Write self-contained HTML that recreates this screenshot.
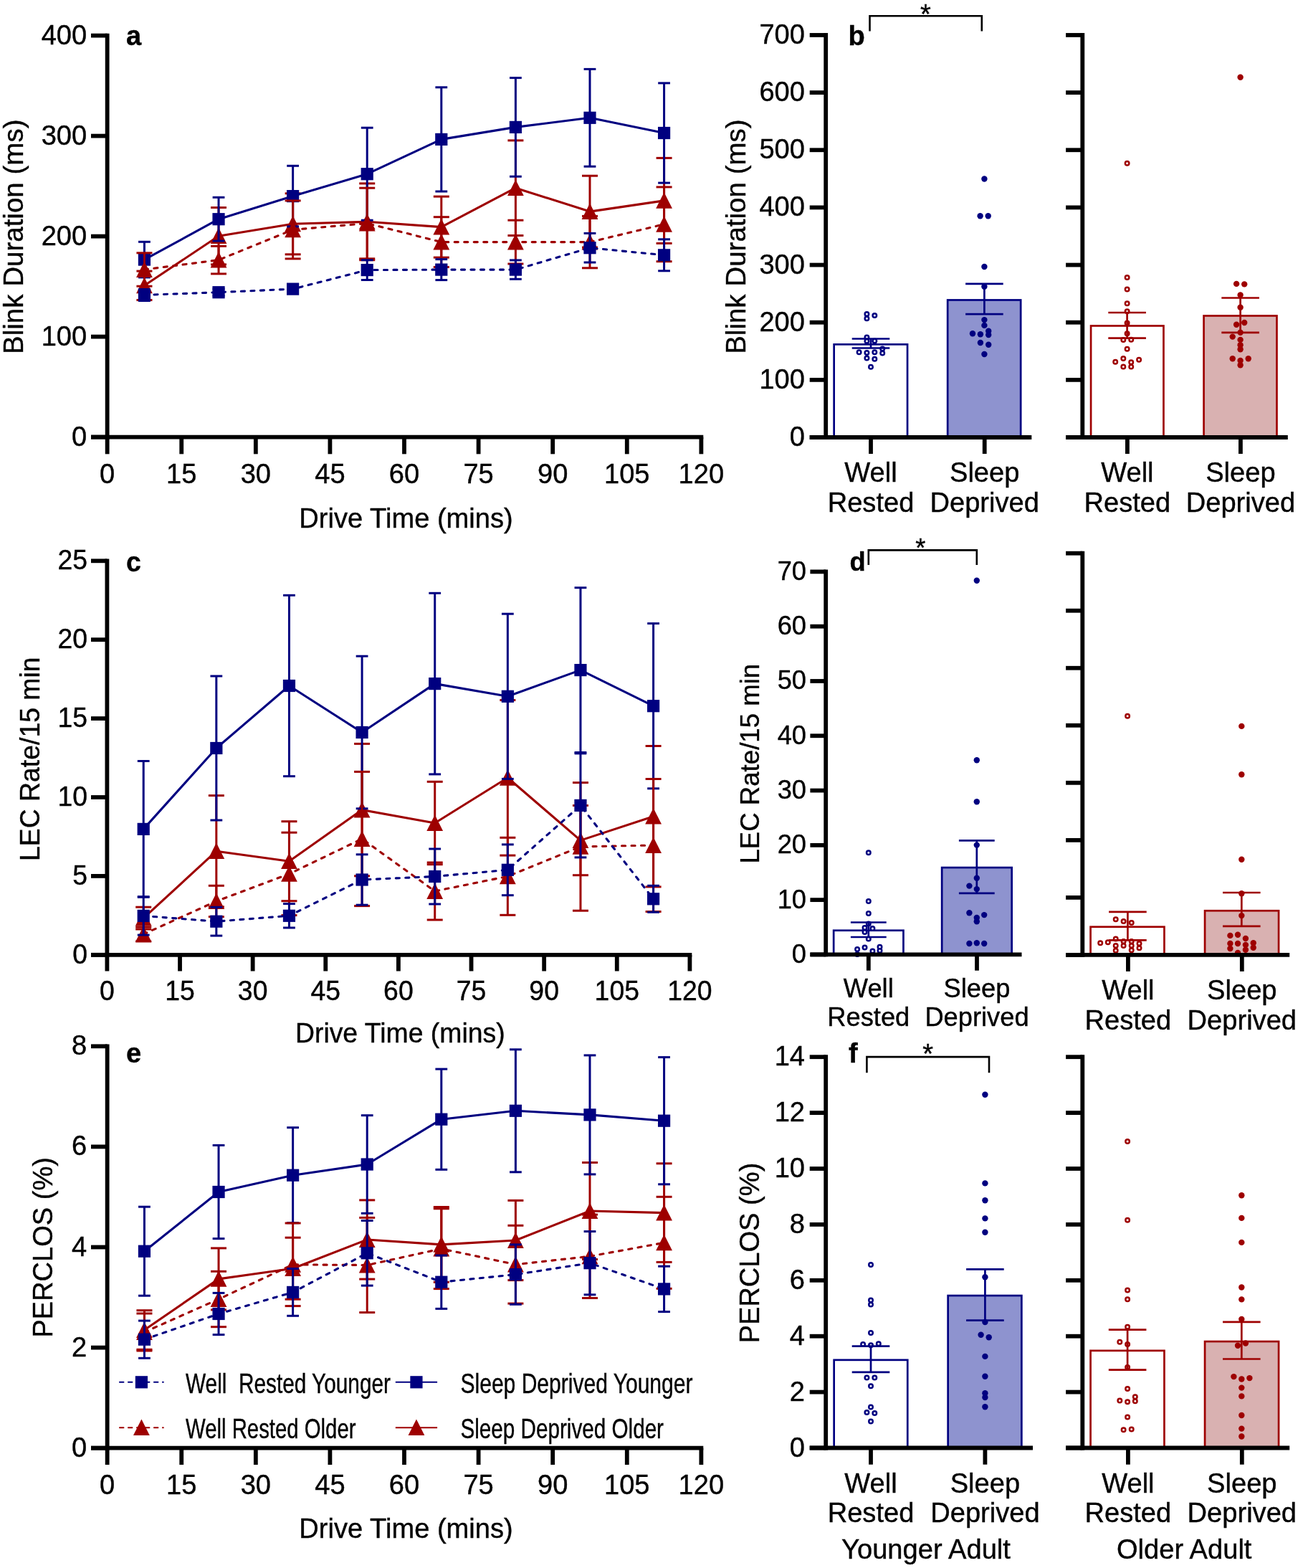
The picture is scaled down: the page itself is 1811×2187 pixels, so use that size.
<!DOCTYPE html>
<html><head><meta charset="utf-8"><title>Figure</title>
<style>
html,body{margin:0;padding:0;background:#fff;}
svg{display:block;}
text{font-family:'Liberation Sans', Arial, Helvetica, sans-serif;fill:#000;stroke:#000;stroke-width:0.4px;}
</style></head>
<body>
<svg width="1811" height="2187" viewBox="0 0 1811 2187">
<rect x="0" y="0" width="1811" height="2187" fill="#fff"/>
<line x1="201.44" y1="378.10" x2="201.44" y2="418.50" stroke="#9e0000" stroke-width="3.0" stroke-linecap="butt"/>
<line x1="190.44" y1="378.10" x2="212.44" y2="378.10" stroke="#9e0000" stroke-width="3.0" stroke-linecap="butt"/>
<line x1="190.44" y1="418.50" x2="212.44" y2="418.50" stroke="#9e0000" stroke-width="3.0" stroke-linecap="butt"/>
<line x1="305.03" y1="289.50" x2="305.03" y2="368.90" stroke="#9e0000" stroke-width="3.0" stroke-linecap="butt"/>
<line x1="294.03" y1="289.50" x2="316.03" y2="289.50" stroke="#9e0000" stroke-width="3.0" stroke-linecap="butt"/>
<line x1="294.03" y1="368.90" x2="316.03" y2="368.90" stroke="#9e0000" stroke-width="3.0" stroke-linecap="butt"/>
<line x1="408.62" y1="269.80" x2="408.62" y2="354.80" stroke="#9e0000" stroke-width="3.0" stroke-linecap="butt"/>
<line x1="397.62" y1="269.80" x2="419.62" y2="269.80" stroke="#9e0000" stroke-width="3.0" stroke-linecap="butt"/>
<line x1="397.62" y1="354.80" x2="419.62" y2="354.80" stroke="#9e0000" stroke-width="3.0" stroke-linecap="butt"/>
<line x1="512.22" y1="255.90" x2="512.22" y2="362.70" stroke="#9e0000" stroke-width="3.0" stroke-linecap="butt"/>
<line x1="501.22" y1="255.90" x2="523.22" y2="255.90" stroke="#9e0000" stroke-width="3.0" stroke-linecap="butt"/>
<line x1="501.22" y1="362.70" x2="523.22" y2="362.70" stroke="#9e0000" stroke-width="3.0" stroke-linecap="butt"/>
<line x1="615.80" y1="274.10" x2="615.80" y2="359.10" stroke="#9e0000" stroke-width="3.0" stroke-linecap="butt"/>
<line x1="604.80" y1="274.10" x2="626.80" y2="274.10" stroke="#9e0000" stroke-width="3.0" stroke-linecap="butt"/>
<line x1="604.80" y1="359.10" x2="626.80" y2="359.10" stroke="#9e0000" stroke-width="3.0" stroke-linecap="butt"/>
<line x1="719.39" y1="195.90" x2="719.39" y2="328.50" stroke="#9e0000" stroke-width="3.0" stroke-linecap="butt"/>
<line x1="708.39" y1="195.90" x2="730.39" y2="195.90" stroke="#9e0000" stroke-width="3.0" stroke-linecap="butt"/>
<line x1="708.39" y1="328.50" x2="730.39" y2="328.50" stroke="#9e0000" stroke-width="3.0" stroke-linecap="butt"/>
<line x1="822.98" y1="245.20" x2="822.98" y2="345.00" stroke="#9e0000" stroke-width="3.0" stroke-linecap="butt"/>
<line x1="811.98" y1="245.20" x2="833.98" y2="245.20" stroke="#9e0000" stroke-width="3.0" stroke-linecap="butt"/>
<line x1="811.98" y1="345.00" x2="833.98" y2="345.00" stroke="#9e0000" stroke-width="3.0" stroke-linecap="butt"/>
<line x1="926.57" y1="220.40" x2="926.57" y2="339.40" stroke="#9e0000" stroke-width="3.0" stroke-linecap="butt"/>
<line x1="915.57" y1="220.40" x2="937.57" y2="220.40" stroke="#9e0000" stroke-width="3.0" stroke-linecap="butt"/>
<line x1="915.57" y1="339.40" x2="937.57" y2="339.40" stroke="#9e0000" stroke-width="3.0" stroke-linecap="butt"/>
<polyline points="201.44,398.30 305.03,329.20 408.62,312.30 512.22,309.30 615.80,316.60 719.39,262.20 822.98,295.10 926.57,279.90" fill="none" stroke="#9e0000" stroke-width="3.1" stroke-linejoin="round"/>
<polygon points="201.44,386.70 212.84,409.20 190.04,409.20" fill="#9e0000"/>
<polygon points="305.03,317.60 316.43,340.10 293.63,340.10" fill="#9e0000"/>
<polygon points="408.62,300.70 420.02,323.20 397.23,323.20" fill="#9e0000"/>
<polygon points="512.22,297.70 523.62,320.20 500.82,320.20" fill="#9e0000"/>
<polygon points="615.80,305.00 627.20,327.50 604.40,327.50" fill="#9e0000"/>
<polygon points="719.39,250.60 730.79,273.10 708.00,273.10" fill="#9e0000"/>
<polygon points="822.98,283.50 834.38,306.00 811.58,306.00" fill="#9e0000"/>
<polygon points="926.57,268.30 937.97,290.80 915.17,290.80" fill="#9e0000"/>
<line x1="201.44" y1="337.30" x2="201.44" y2="386.90" stroke="#000080" stroke-width="3.0" stroke-linecap="butt"/>
<line x1="193.04" y1="337.30" x2="209.84" y2="337.30" stroke="#000080" stroke-width="3.0" stroke-linecap="butt"/>
<line x1="193.04" y1="386.90" x2="209.84" y2="386.90" stroke="#000080" stroke-width="3.0" stroke-linecap="butt"/>
<line x1="305.03" y1="275.30" x2="305.03" y2="336.10" stroke="#000080" stroke-width="3.0" stroke-linecap="butt"/>
<line x1="296.63" y1="275.30" x2="313.43" y2="275.30" stroke="#000080" stroke-width="3.0" stroke-linecap="butt"/>
<line x1="296.63" y1="336.10" x2="313.43" y2="336.10" stroke="#000080" stroke-width="3.0" stroke-linecap="butt"/>
<line x1="408.62" y1="231.30" x2="408.62" y2="315.90" stroke="#000080" stroke-width="3.0" stroke-linecap="butt"/>
<line x1="400.23" y1="231.30" x2="417.02" y2="231.30" stroke="#000080" stroke-width="3.0" stroke-linecap="butt"/>
<line x1="400.23" y1="315.90" x2="417.02" y2="315.90" stroke="#000080" stroke-width="3.0" stroke-linecap="butt"/>
<line x1="512.22" y1="178.20" x2="512.22" y2="307.20" stroke="#000080" stroke-width="3.0" stroke-linecap="butt"/>
<line x1="503.82" y1="178.20" x2="520.62" y2="178.20" stroke="#000080" stroke-width="3.0" stroke-linecap="butt"/>
<line x1="503.82" y1="307.20" x2="520.62" y2="307.20" stroke="#000080" stroke-width="3.0" stroke-linecap="butt"/>
<line x1="615.80" y1="121.80" x2="615.80" y2="267.00" stroke="#000080" stroke-width="3.0" stroke-linecap="butt"/>
<line x1="607.40" y1="121.80" x2="624.20" y2="121.80" stroke="#000080" stroke-width="3.0" stroke-linecap="butt"/>
<line x1="607.40" y1="267.00" x2="624.20" y2="267.00" stroke="#000080" stroke-width="3.0" stroke-linecap="butt"/>
<line x1="719.39" y1="108.60" x2="719.39" y2="246.20" stroke="#000080" stroke-width="3.0" stroke-linecap="butt"/>
<line x1="711.00" y1="108.60" x2="727.79" y2="108.60" stroke="#000080" stroke-width="3.0" stroke-linecap="butt"/>
<line x1="711.00" y1="246.20" x2="727.79" y2="246.20" stroke="#000080" stroke-width="3.0" stroke-linecap="butt"/>
<line x1="822.98" y1="96.40" x2="822.98" y2="232.20" stroke="#000080" stroke-width="3.0" stroke-linecap="butt"/>
<line x1="814.58" y1="96.40" x2="831.38" y2="96.40" stroke="#000080" stroke-width="3.0" stroke-linecap="butt"/>
<line x1="814.58" y1="232.20" x2="831.38" y2="232.20" stroke="#000080" stroke-width="3.0" stroke-linecap="butt"/>
<line x1="926.57" y1="115.90" x2="926.57" y2="255.10" stroke="#000080" stroke-width="3.0" stroke-linecap="butt"/>
<line x1="918.17" y1="115.90" x2="934.97" y2="115.90" stroke="#000080" stroke-width="3.0" stroke-linecap="butt"/>
<line x1="918.17" y1="255.10" x2="934.97" y2="255.10" stroke="#000080" stroke-width="3.0" stroke-linecap="butt"/>
<polyline points="201.44,362.10 305.03,305.70 408.62,273.60 512.22,242.70 615.80,194.40 719.39,177.40 822.98,164.30 926.57,185.50" fill="none" stroke="#000080" stroke-width="3.1" stroke-linejoin="round"/>
<rect x="192.84" y="353.50" width="17.2" height="17.2" fill="#000080"/>
<rect x="296.43" y="297.10" width="17.2" height="17.2" fill="#000080"/>
<rect x="400.02" y="265.00" width="17.2" height="17.2" fill="#000080"/>
<rect x="503.62" y="234.10" width="17.2" height="17.2" fill="#000080"/>
<rect x="607.20" y="185.80" width="17.2" height="17.2" fill="#000080"/>
<rect x="710.79" y="168.80" width="17.2" height="17.2" fill="#000080"/>
<rect x="814.38" y="155.70" width="17.2" height="17.2" fill="#000080"/>
<rect x="917.97" y="176.90" width="17.2" height="17.2" fill="#000080"/>
<line x1="201.44" y1="352.80" x2="201.44" y2="399.20" stroke="#9e0000" stroke-width="3.0" stroke-linecap="butt"/>
<line x1="190.44" y1="352.80" x2="212.44" y2="352.80" stroke="#9e0000" stroke-width="3.0" stroke-linecap="butt"/>
<line x1="190.44" y1="399.20" x2="212.44" y2="399.20" stroke="#9e0000" stroke-width="3.0" stroke-linecap="butt"/>
<line x1="305.03" y1="343.30" x2="305.03" y2="381.90" stroke="#9e0000" stroke-width="3.0" stroke-linecap="butt"/>
<line x1="294.03" y1="343.30" x2="316.03" y2="343.30" stroke="#9e0000" stroke-width="3.0" stroke-linecap="butt"/>
<line x1="294.03" y1="381.90" x2="316.03" y2="381.90" stroke="#9e0000" stroke-width="3.0" stroke-linecap="butt"/>
<line x1="408.62" y1="279.90" x2="408.62" y2="360.90" stroke="#9e0000" stroke-width="3.0" stroke-linecap="butt"/>
<line x1="397.62" y1="279.90" x2="419.62" y2="279.90" stroke="#9e0000" stroke-width="3.0" stroke-linecap="butt"/>
<line x1="397.62" y1="360.90" x2="419.62" y2="360.90" stroke="#9e0000" stroke-width="3.0" stroke-linecap="butt"/>
<line x1="512.22" y1="262.20" x2="512.22" y2="360.80" stroke="#9e0000" stroke-width="3.0" stroke-linecap="butt"/>
<line x1="501.22" y1="262.20" x2="523.22" y2="262.20" stroke="#9e0000" stroke-width="3.0" stroke-linecap="butt"/>
<line x1="501.22" y1="360.80" x2="523.22" y2="360.80" stroke="#9e0000" stroke-width="3.0" stroke-linecap="butt"/>
<line x1="615.80" y1="302.70" x2="615.80" y2="372.50" stroke="#9e0000" stroke-width="3.0" stroke-linecap="butt"/>
<line x1="604.80" y1="302.70" x2="626.80" y2="302.70" stroke="#9e0000" stroke-width="3.0" stroke-linecap="butt"/>
<line x1="604.80" y1="372.50" x2="626.80" y2="372.50" stroke="#9e0000" stroke-width="3.0" stroke-linecap="butt"/>
<line x1="719.39" y1="307.20" x2="719.39" y2="368.00" stroke="#9e0000" stroke-width="3.0" stroke-linecap="butt"/>
<line x1="708.39" y1="307.20" x2="730.39" y2="307.20" stroke="#9e0000" stroke-width="3.0" stroke-linecap="butt"/>
<line x1="708.39" y1="368.00" x2="730.39" y2="368.00" stroke="#9e0000" stroke-width="3.0" stroke-linecap="butt"/>
<line x1="822.98" y1="301.40" x2="822.98" y2="373.80" stroke="#9e0000" stroke-width="3.0" stroke-linecap="butt"/>
<line x1="811.98" y1="301.40" x2="833.98" y2="301.40" stroke="#9e0000" stroke-width="3.0" stroke-linecap="butt"/>
<line x1="811.98" y1="373.80" x2="833.98" y2="373.80" stroke="#9e0000" stroke-width="3.0" stroke-linecap="butt"/>
<line x1="926.57" y1="260.90" x2="926.57" y2="364.70" stroke="#9e0000" stroke-width="3.0" stroke-linecap="butt"/>
<line x1="915.57" y1="260.90" x2="937.57" y2="260.90" stroke="#9e0000" stroke-width="3.0" stroke-linecap="butt"/>
<line x1="915.57" y1="364.70" x2="937.57" y2="364.70" stroke="#9e0000" stroke-width="3.0" stroke-linecap="butt"/>
<polyline points="201.44,376.00 305.03,362.60 408.62,320.40 512.22,311.50 615.80,337.60 719.39,337.60 822.98,337.60 926.57,312.80" fill="none" stroke="#9e0000" stroke-width="3.1" stroke-dasharray="5.1 8.4" stroke-linecap="round" stroke-linejoin="round"/>
<polygon points="201.44,364.40 212.84,386.90 190.04,386.90" fill="#9e0000"/>
<polygon points="305.03,351.00 316.43,373.50 293.63,373.50" fill="#9e0000"/>
<polygon points="408.62,308.80 420.02,331.30 397.23,331.30" fill="#9e0000"/>
<polygon points="512.22,299.90 523.62,322.40 500.82,322.40" fill="#9e0000"/>
<polygon points="615.80,326.00 627.20,348.50 604.40,348.50" fill="#9e0000"/>
<polygon points="719.39,326.00 730.79,348.50 708.00,348.50" fill="#9e0000"/>
<polygon points="822.98,326.00 834.38,348.50 811.58,348.50" fill="#9e0000"/>
<polygon points="926.57,301.20 937.97,323.70 915.17,323.70" fill="#9e0000"/>
<line x1="201.44" y1="403.50" x2="201.44" y2="419.50" stroke="#000080" stroke-width="3.0" stroke-linecap="butt"/>
<line x1="193.04" y1="403.50" x2="209.84" y2="403.50" stroke="#000080" stroke-width="3.0" stroke-linecap="butt"/>
<line x1="193.04" y1="419.50" x2="209.84" y2="419.50" stroke="#000080" stroke-width="3.0" stroke-linecap="butt"/>
<line x1="305.03" y1="403.00" x2="305.03" y2="412.40" stroke="#000080" stroke-width="3.0" stroke-linecap="butt"/>
<line x1="296.63" y1="403.00" x2="313.43" y2="403.00" stroke="#000080" stroke-width="3.0" stroke-linecap="butt"/>
<line x1="296.63" y1="412.40" x2="313.43" y2="412.40" stroke="#000080" stroke-width="3.0" stroke-linecap="butt"/>
<line x1="408.62" y1="399.00" x2="408.62" y2="407.20" stroke="#000080" stroke-width="3.0" stroke-linecap="butt"/>
<line x1="400.23" y1="399.00" x2="417.02" y2="399.00" stroke="#000080" stroke-width="3.0" stroke-linecap="butt"/>
<line x1="400.23" y1="407.20" x2="417.02" y2="407.20" stroke="#000080" stroke-width="3.0" stroke-linecap="butt"/>
<line x1="512.22" y1="362.70" x2="512.22" y2="390.50" stroke="#000080" stroke-width="3.0" stroke-linecap="butt"/>
<line x1="503.82" y1="362.70" x2="520.62" y2="362.70" stroke="#000080" stroke-width="3.0" stroke-linecap="butt"/>
<line x1="503.82" y1="390.50" x2="520.62" y2="390.50" stroke="#000080" stroke-width="3.0" stroke-linecap="butt"/>
<line x1="615.80" y1="361.60" x2="615.80" y2="390.60" stroke="#000080" stroke-width="3.0" stroke-linecap="butt"/>
<line x1="607.40" y1="361.60" x2="624.20" y2="361.60" stroke="#000080" stroke-width="3.0" stroke-linecap="butt"/>
<line x1="607.40" y1="390.60" x2="624.20" y2="390.60" stroke="#000080" stroke-width="3.0" stroke-linecap="butt"/>
<line x1="719.39" y1="362.90" x2="719.39" y2="389.30" stroke="#000080" stroke-width="3.0" stroke-linecap="butt"/>
<line x1="711.00" y1="362.90" x2="727.79" y2="362.90" stroke="#000080" stroke-width="3.0" stroke-linecap="butt"/>
<line x1="711.00" y1="389.30" x2="727.79" y2="389.30" stroke="#000080" stroke-width="3.0" stroke-linecap="butt"/>
<line x1="822.98" y1="325.40" x2="822.98" y2="366.00" stroke="#000080" stroke-width="3.0" stroke-linecap="butt"/>
<line x1="814.58" y1="325.40" x2="831.38" y2="325.40" stroke="#000080" stroke-width="3.0" stroke-linecap="butt"/>
<line x1="814.58" y1="366.00" x2="831.38" y2="366.00" stroke="#000080" stroke-width="3.0" stroke-linecap="butt"/>
<line x1="926.57" y1="333.80" x2="926.57" y2="377.80" stroke="#000080" stroke-width="3.0" stroke-linecap="butt"/>
<line x1="918.17" y1="333.80" x2="934.97" y2="333.80" stroke="#000080" stroke-width="3.0" stroke-linecap="butt"/>
<line x1="918.17" y1="377.80" x2="934.97" y2="377.80" stroke="#000080" stroke-width="3.0" stroke-linecap="butt"/>
<polyline points="201.44,411.50 305.03,407.70 408.62,403.10 512.22,376.60 615.80,376.10 719.39,376.10 822.98,345.70 926.57,355.80" fill="none" stroke="#000080" stroke-width="3.1" stroke-dasharray="5.1 8.4" stroke-linecap="round" stroke-linejoin="round"/>
<rect x="192.84" y="402.90" width="17.2" height="17.2" fill="#000080"/>
<rect x="296.43" y="399.10" width="17.2" height="17.2" fill="#000080"/>
<rect x="400.02" y="394.50" width="17.2" height="17.2" fill="#000080"/>
<rect x="503.62" y="368.00" width="17.2" height="17.2" fill="#000080"/>
<rect x="607.20" y="367.50" width="17.2" height="17.2" fill="#000080"/>
<rect x="710.79" y="367.50" width="17.2" height="17.2" fill="#000080"/>
<rect x="814.38" y="337.10" width="17.2" height="17.2" fill="#000080"/>
<rect x="917.97" y="347.20" width="17.2" height="17.2" fill="#000080"/>
<line x1="149.65" y1="46.70" x2="149.65" y2="612.50" stroke="#000" stroke-width="5.8" stroke-linecap="butt"/>
<line x1="127.00" y1="49.60" x2="149.65" y2="49.60" stroke="#000" stroke-width="5.8" stroke-linecap="butt"/>
<line x1="127.00" y1="189.60" x2="149.65" y2="189.60" stroke="#000" stroke-width="5.8" stroke-linecap="butt"/>
<line x1="127.00" y1="329.60" x2="149.65" y2="329.60" stroke="#000" stroke-width="5.8" stroke-linecap="butt"/>
<line x1="127.00" y1="469.60" x2="149.65" y2="469.60" stroke="#000" stroke-width="5.8" stroke-linecap="butt"/>
<line x1="127.00" y1="609.60" x2="149.65" y2="609.60" stroke="#000" stroke-width="5.8" stroke-linecap="butt"/>
<line x1="127.00" y1="609.60" x2="981.27" y2="609.60" stroke="#000" stroke-width="5.8" stroke-linecap="butt"/>
<line x1="149.65" y1="609.60" x2="149.65" y2="633.30" stroke="#000" stroke-width="5.8" stroke-linecap="butt"/>
<line x1="253.24" y1="609.60" x2="253.24" y2="633.30" stroke="#000" stroke-width="5.8" stroke-linecap="butt"/>
<line x1="356.83" y1="609.60" x2="356.83" y2="633.30" stroke="#000" stroke-width="5.8" stroke-linecap="butt"/>
<line x1="460.42" y1="609.60" x2="460.42" y2="633.30" stroke="#000" stroke-width="5.8" stroke-linecap="butt"/>
<line x1="564.01" y1="609.60" x2="564.01" y2="633.30" stroke="#000" stroke-width="5.8" stroke-linecap="butt"/>
<line x1="667.60" y1="609.60" x2="667.60" y2="633.30" stroke="#000" stroke-width="5.8" stroke-linecap="butt"/>
<line x1="771.19" y1="609.60" x2="771.19" y2="633.30" stroke="#000" stroke-width="5.8" stroke-linecap="butt"/>
<line x1="874.78" y1="609.60" x2="874.78" y2="633.30" stroke="#000" stroke-width="5.8" stroke-linecap="butt"/>
<line x1="978.37" y1="609.60" x2="978.37" y2="633.30" stroke="#000" stroke-width="5.8" stroke-linecap="butt"/>
<text transform="translate(121.20 61.67) scale(0.972 1)" font-size="39.20" text-anchor="end">400</text>
<text transform="translate(121.20 201.67) scale(0.972 1)" font-size="39.20" text-anchor="end">300</text>
<text transform="translate(121.20 341.67) scale(0.972 1)" font-size="39.20" text-anchor="end">200</text>
<text transform="translate(121.20 481.67) scale(0.972 1)" font-size="39.20" text-anchor="end">100</text>
<text transform="translate(121.20 621.67) scale(0.972 1)" font-size="39.20" text-anchor="end">0</text>
<text transform="translate(149.65 674.30) scale(0.972 1)" font-size="39.20" text-anchor="middle">0</text>
<text transform="translate(253.24 674.30) scale(0.972 1)" font-size="39.20" text-anchor="middle">15</text>
<text transform="translate(356.83 674.30) scale(0.972 1)" font-size="39.20" text-anchor="middle">30</text>
<text transform="translate(460.42 674.30) scale(0.972 1)" font-size="39.20" text-anchor="middle">45</text>
<text transform="translate(564.01 674.30) scale(0.972 1)" font-size="39.20" text-anchor="middle">60</text>
<text transform="translate(667.60 674.30) scale(0.972 1)" font-size="39.20" text-anchor="middle">75</text>
<text transform="translate(771.19 674.30) scale(0.972 1)" font-size="39.20" text-anchor="middle">90</text>
<text transform="translate(874.78 674.30) scale(0.972 1)" font-size="39.20" text-anchor="middle">105</text>
<text transform="translate(978.37 674.30) scale(0.972 1)" font-size="39.20" text-anchor="middle">120</text>
<text transform="translate(176.00 62.60) scale(0.972 1)" font-size="39.20" text-anchor="start" font-weight="bold">a</text>
<text transform="translate(566.50 735.80) scale(0.972 1)" font-size="39.20" text-anchor="middle">Drive Time (mins)</text>
<text transform="translate(32.00 330.30) rotate(-90) scale(0.983 1)" font-size="39.20" text-anchor="middle">Blink Duration (ms)</text>
<line x1="200.21" y1="1265.20" x2="200.21" y2="1296.00" stroke="#9e0000" stroke-width="3.0" stroke-linecap="butt"/>
<line x1="189.21" y1="1265.20" x2="211.21" y2="1265.20" stroke="#9e0000" stroke-width="3.0" stroke-linecap="butt"/>
<line x1="189.21" y1="1296.00" x2="211.21" y2="1296.00" stroke="#9e0000" stroke-width="3.0" stroke-linecap="butt"/>
<line x1="301.84" y1="1109.60" x2="301.84" y2="1264.80" stroke="#9e0000" stroke-width="3.0" stroke-linecap="butt"/>
<line x1="290.84" y1="1109.60" x2="312.84" y2="1109.60" stroke="#9e0000" stroke-width="3.0" stroke-linecap="butt"/>
<line x1="290.84" y1="1264.80" x2="312.84" y2="1264.80" stroke="#9e0000" stroke-width="3.0" stroke-linecap="butt"/>
<line x1="403.46" y1="1145.70" x2="403.46" y2="1256.70" stroke="#9e0000" stroke-width="3.0" stroke-linecap="butt"/>
<line x1="392.46" y1="1145.70" x2="414.46" y2="1145.70" stroke="#9e0000" stroke-width="3.0" stroke-linecap="butt"/>
<line x1="392.46" y1="1256.70" x2="414.46" y2="1256.70" stroke="#9e0000" stroke-width="3.0" stroke-linecap="butt"/>
<line x1="505.09" y1="1037.40" x2="505.09" y2="1221.80" stroke="#9e0000" stroke-width="3.0" stroke-linecap="butt"/>
<line x1="494.09" y1="1037.40" x2="516.09" y2="1037.40" stroke="#9e0000" stroke-width="3.0" stroke-linecap="butt"/>
<line x1="494.09" y1="1221.80" x2="516.09" y2="1221.80" stroke="#9e0000" stroke-width="3.0" stroke-linecap="butt"/>
<line x1="606.71" y1="1090.30" x2="606.71" y2="1205.70" stroke="#9e0000" stroke-width="3.0" stroke-linecap="butt"/>
<line x1="595.71" y1="1090.30" x2="617.71" y2="1090.30" stroke="#9e0000" stroke-width="3.0" stroke-linecap="butt"/>
<line x1="595.71" y1="1205.70" x2="617.71" y2="1205.70" stroke="#9e0000" stroke-width="3.0" stroke-linecap="butt"/>
<line x1="708.34" y1="976.50" x2="708.34" y2="1193.10" stroke="#9e0000" stroke-width="3.0" stroke-linecap="butt"/>
<line x1="697.34" y1="976.50" x2="719.34" y2="976.50" stroke="#9e0000" stroke-width="3.0" stroke-linecap="butt"/>
<line x1="697.34" y1="1193.10" x2="719.34" y2="1193.10" stroke="#9e0000" stroke-width="3.0" stroke-linecap="butt"/>
<line x1="809.96" y1="1123.50" x2="809.96" y2="1220.70" stroke="#9e0000" stroke-width="3.0" stroke-linecap="butt"/>
<line x1="798.96" y1="1123.50" x2="820.96" y2="1123.50" stroke="#9e0000" stroke-width="3.0" stroke-linecap="butt"/>
<line x1="798.96" y1="1220.70" x2="820.96" y2="1220.70" stroke="#9e0000" stroke-width="3.0" stroke-linecap="butt"/>
<line x1="911.59" y1="1040.50" x2="911.59" y2="1236.90" stroke="#9e0000" stroke-width="3.0" stroke-linecap="butt"/>
<line x1="900.59" y1="1040.50" x2="922.59" y2="1040.50" stroke="#9e0000" stroke-width="3.0" stroke-linecap="butt"/>
<line x1="900.59" y1="1236.90" x2="922.59" y2="1236.90" stroke="#9e0000" stroke-width="3.0" stroke-linecap="butt"/>
<polyline points="200.21,1280.60 301.84,1187.20 403.46,1201.20 505.09,1129.60 606.71,1148.00 708.34,1084.80 809.96,1172.10 911.59,1138.70" fill="none" stroke="#9e0000" stroke-width="3.1" stroke-linejoin="round"/>
<polygon points="200.21,1269.00 211.61,1291.50 188.81,1291.50" fill="#9e0000"/>
<polygon points="301.84,1175.60 313.24,1198.10 290.44,1198.10" fill="#9e0000"/>
<polygon points="403.46,1189.60 414.86,1212.10 392.06,1212.10" fill="#9e0000"/>
<polygon points="505.09,1118.00 516.49,1140.50 493.69,1140.50" fill="#9e0000"/>
<polygon points="606.71,1136.40 618.11,1158.90 595.31,1158.90" fill="#9e0000"/>
<polygon points="708.34,1073.20 719.74,1095.70 696.94,1095.70" fill="#9e0000"/>
<polygon points="809.96,1160.50 821.36,1183.00 798.56,1183.00" fill="#9e0000"/>
<polygon points="911.59,1127.10 922.99,1149.60 900.19,1149.60" fill="#9e0000"/>
<line x1="200.21" y1="1061.50" x2="200.21" y2="1251.30" stroke="#000080" stroke-width="3.0" stroke-linecap="butt"/>
<line x1="191.81" y1="1061.50" x2="208.61" y2="1061.50" stroke="#000080" stroke-width="3.0" stroke-linecap="butt"/>
<line x1="191.81" y1="1251.30" x2="208.61" y2="1251.30" stroke="#000080" stroke-width="3.0" stroke-linecap="butt"/>
<line x1="301.84" y1="943.00" x2="301.84" y2="1144.00" stroke="#000080" stroke-width="3.0" stroke-linecap="butt"/>
<line x1="293.44" y1="943.00" x2="310.24" y2="943.00" stroke="#000080" stroke-width="3.0" stroke-linecap="butt"/>
<line x1="293.44" y1="1144.00" x2="310.24" y2="1144.00" stroke="#000080" stroke-width="3.0" stroke-linecap="butt"/>
<line x1="403.46" y1="830.30" x2="403.46" y2="1082.70" stroke="#000080" stroke-width="3.0" stroke-linecap="butt"/>
<line x1="395.06" y1="830.30" x2="411.86" y2="830.30" stroke="#000080" stroke-width="3.0" stroke-linecap="butt"/>
<line x1="395.06" y1="1082.70" x2="411.86" y2="1082.70" stroke="#000080" stroke-width="3.0" stroke-linecap="butt"/>
<line x1="505.09" y1="915.20" x2="505.09" y2="1127.80" stroke="#000080" stroke-width="3.0" stroke-linecap="butt"/>
<line x1="496.69" y1="915.20" x2="513.49" y2="915.20" stroke="#000080" stroke-width="3.0" stroke-linecap="butt"/>
<line x1="496.69" y1="1127.80" x2="513.49" y2="1127.80" stroke="#000080" stroke-width="3.0" stroke-linecap="butt"/>
<line x1="606.71" y1="827.30" x2="606.71" y2="1079.90" stroke="#000080" stroke-width="3.0" stroke-linecap="butt"/>
<line x1="598.31" y1="827.30" x2="615.11" y2="827.30" stroke="#000080" stroke-width="3.0" stroke-linecap="butt"/>
<line x1="598.31" y1="1079.90" x2="615.11" y2="1079.90" stroke="#000080" stroke-width="3.0" stroke-linecap="butt"/>
<line x1="708.34" y1="856.20" x2="708.34" y2="1086.40" stroke="#000080" stroke-width="3.0" stroke-linecap="butt"/>
<line x1="699.94" y1="856.20" x2="716.74" y2="856.20" stroke="#000080" stroke-width="3.0" stroke-linecap="butt"/>
<line x1="699.94" y1="1086.40" x2="716.74" y2="1086.40" stroke="#000080" stroke-width="3.0" stroke-linecap="butt"/>
<line x1="809.96" y1="819.70" x2="809.96" y2="1049.50" stroke="#000080" stroke-width="3.0" stroke-linecap="butt"/>
<line x1="801.56" y1="819.70" x2="818.36" y2="819.70" stroke="#000080" stroke-width="3.0" stroke-linecap="butt"/>
<line x1="801.56" y1="1049.50" x2="818.36" y2="1049.50" stroke="#000080" stroke-width="3.0" stroke-linecap="butt"/>
<line x1="911.59" y1="869.60" x2="911.59" y2="1099.80" stroke="#000080" stroke-width="3.0" stroke-linecap="butt"/>
<line x1="903.19" y1="869.60" x2="919.99" y2="869.60" stroke="#000080" stroke-width="3.0" stroke-linecap="butt"/>
<line x1="903.19" y1="1099.80" x2="919.99" y2="1099.80" stroke="#000080" stroke-width="3.0" stroke-linecap="butt"/>
<polyline points="200.21,1156.40 301.84,1043.50 403.46,956.50 505.09,1021.50 606.71,953.60 708.34,971.30 809.96,934.60 911.59,984.70" fill="none" stroke="#000080" stroke-width="3.1" stroke-linejoin="round"/>
<rect x="191.61" y="1147.80" width="17.2" height="17.2" fill="#000080"/>
<rect x="293.24" y="1034.90" width="17.2" height="17.2" fill="#000080"/>
<rect x="394.86" y="947.90" width="17.2" height="17.2" fill="#000080"/>
<rect x="496.49" y="1012.90" width="17.2" height="17.2" fill="#000080"/>
<rect x="598.11" y="945.00" width="17.2" height="17.2" fill="#000080"/>
<rect x="699.74" y="962.70" width="17.2" height="17.2" fill="#000080"/>
<rect x="801.36" y="926.00" width="17.2" height="17.2" fill="#000080"/>
<rect x="902.99" y="976.10" width="17.2" height="17.2" fill="#000080"/>
<line x1="200.21" y1="1293.00" x2="200.21" y2="1313.00" stroke="#9e0000" stroke-width="3.0" stroke-linecap="butt"/>
<line x1="189.21" y1="1293.00" x2="211.21" y2="1293.00" stroke="#9e0000" stroke-width="3.0" stroke-linecap="butt"/>
<line x1="189.21" y1="1313.00" x2="211.21" y2="1313.00" stroke="#9e0000" stroke-width="3.0" stroke-linecap="butt"/>
<line x1="301.84" y1="1235.30" x2="301.84" y2="1278.70" stroke="#9e0000" stroke-width="3.0" stroke-linecap="butt"/>
<line x1="290.84" y1="1235.30" x2="312.84" y2="1235.30" stroke="#9e0000" stroke-width="3.0" stroke-linecap="butt"/>
<line x1="290.84" y1="1278.70" x2="312.84" y2="1278.70" stroke="#9e0000" stroke-width="3.0" stroke-linecap="butt"/>
<line x1="403.46" y1="1161.20" x2="403.46" y2="1276.60" stroke="#9e0000" stroke-width="3.0" stroke-linecap="butt"/>
<line x1="392.46" y1="1161.20" x2="414.46" y2="1161.20" stroke="#9e0000" stroke-width="3.0" stroke-linecap="butt"/>
<line x1="392.46" y1="1276.60" x2="414.46" y2="1276.60" stroke="#9e0000" stroke-width="3.0" stroke-linecap="butt"/>
<line x1="505.09" y1="1076.40" x2="505.09" y2="1263.60" stroke="#9e0000" stroke-width="3.0" stroke-linecap="butt"/>
<line x1="494.09" y1="1076.40" x2="516.09" y2="1076.40" stroke="#9e0000" stroke-width="3.0" stroke-linecap="butt"/>
<line x1="494.09" y1="1263.60" x2="516.09" y2="1263.60" stroke="#9e0000" stroke-width="3.0" stroke-linecap="butt"/>
<line x1="606.71" y1="1203.00" x2="606.71" y2="1283.00" stroke="#9e0000" stroke-width="3.0" stroke-linecap="butt"/>
<line x1="595.71" y1="1203.00" x2="617.71" y2="1203.00" stroke="#9e0000" stroke-width="3.0" stroke-linecap="butt"/>
<line x1="595.71" y1="1283.00" x2="617.71" y2="1283.00" stroke="#9e0000" stroke-width="3.0" stroke-linecap="butt"/>
<line x1="708.34" y1="1168.30" x2="708.34" y2="1276.30" stroke="#9e0000" stroke-width="3.0" stroke-linecap="butt"/>
<line x1="697.34" y1="1168.30" x2="719.34" y2="1168.30" stroke="#9e0000" stroke-width="3.0" stroke-linecap="butt"/>
<line x1="697.34" y1="1276.30" x2="719.34" y2="1276.30" stroke="#9e0000" stroke-width="3.0" stroke-linecap="butt"/>
<line x1="809.96" y1="1091.60" x2="809.96" y2="1270.20" stroke="#9e0000" stroke-width="3.0" stroke-linecap="butt"/>
<line x1="798.96" y1="1091.60" x2="820.96" y2="1091.60" stroke="#9e0000" stroke-width="3.0" stroke-linecap="butt"/>
<line x1="798.96" y1="1270.20" x2="820.96" y2="1270.20" stroke="#9e0000" stroke-width="3.0" stroke-linecap="butt"/>
<line x1="911.59" y1="1086.50" x2="911.59" y2="1271.50" stroke="#9e0000" stroke-width="3.0" stroke-linecap="butt"/>
<line x1="900.59" y1="1086.50" x2="922.59" y2="1086.50" stroke="#9e0000" stroke-width="3.0" stroke-linecap="butt"/>
<line x1="900.59" y1="1271.50" x2="922.59" y2="1271.50" stroke="#9e0000" stroke-width="3.0" stroke-linecap="butt"/>
<polyline points="200.21,1303.00 301.84,1257.00 403.46,1218.90 505.09,1170.00 606.71,1243.00 708.34,1222.30 809.96,1180.90 911.59,1179.00" fill="none" stroke="#9e0000" stroke-width="3.1" stroke-dasharray="5.1 8.4" stroke-linecap="round" stroke-linejoin="round"/>
<polygon points="200.21,1291.40 211.61,1313.90 188.81,1313.90" fill="#9e0000"/>
<polygon points="301.84,1245.40 313.24,1267.90 290.44,1267.90" fill="#9e0000"/>
<polygon points="403.46,1207.30 414.86,1229.80 392.06,1229.80" fill="#9e0000"/>
<polygon points="505.09,1158.40 516.49,1180.90 493.69,1180.90" fill="#9e0000"/>
<polygon points="606.71,1231.40 618.11,1253.90 595.31,1253.90" fill="#9e0000"/>
<polygon points="708.34,1210.70 719.74,1233.20 696.94,1233.20" fill="#9e0000"/>
<polygon points="809.96,1169.30 821.36,1191.80 798.56,1191.80" fill="#9e0000"/>
<polygon points="911.59,1167.40 922.99,1189.90 900.19,1189.90" fill="#9e0000"/>
<line x1="200.21" y1="1250.70" x2="200.21" y2="1304.10" stroke="#000080" stroke-width="3.0" stroke-linecap="butt"/>
<line x1="191.81" y1="1250.70" x2="208.61" y2="1250.70" stroke="#000080" stroke-width="3.0" stroke-linecap="butt"/>
<line x1="191.81" y1="1304.10" x2="208.61" y2="1304.10" stroke="#000080" stroke-width="3.0" stroke-linecap="butt"/>
<line x1="301.84" y1="1265.30" x2="301.84" y2="1305.10" stroke="#000080" stroke-width="3.0" stroke-linecap="butt"/>
<line x1="293.44" y1="1265.30" x2="310.24" y2="1265.30" stroke="#000080" stroke-width="3.0" stroke-linecap="butt"/>
<line x1="293.44" y1="1305.10" x2="310.24" y2="1305.10" stroke="#000080" stroke-width="3.0" stroke-linecap="butt"/>
<line x1="403.46" y1="1260.60" x2="403.46" y2="1294.00" stroke="#000080" stroke-width="3.0" stroke-linecap="butt"/>
<line x1="395.06" y1="1260.60" x2="411.86" y2="1260.60" stroke="#000080" stroke-width="3.0" stroke-linecap="butt"/>
<line x1="395.06" y1="1294.00" x2="411.86" y2="1294.00" stroke="#000080" stroke-width="3.0" stroke-linecap="butt"/>
<line x1="505.09" y1="1191.80" x2="505.09" y2="1262.20" stroke="#000080" stroke-width="3.0" stroke-linecap="butt"/>
<line x1="496.69" y1="1191.80" x2="513.49" y2="1191.80" stroke="#000080" stroke-width="3.0" stroke-linecap="butt"/>
<line x1="496.69" y1="1262.20" x2="513.49" y2="1262.20" stroke="#000080" stroke-width="3.0" stroke-linecap="butt"/>
<line x1="606.71" y1="1184.00" x2="606.71" y2="1261.00" stroke="#000080" stroke-width="3.0" stroke-linecap="butt"/>
<line x1="598.31" y1="1184.00" x2="615.11" y2="1184.00" stroke="#000080" stroke-width="3.0" stroke-linecap="butt"/>
<line x1="598.31" y1="1261.00" x2="615.11" y2="1261.00" stroke="#000080" stroke-width="3.0" stroke-linecap="butt"/>
<line x1="708.34" y1="1177.90" x2="708.34" y2="1248.70" stroke="#000080" stroke-width="3.0" stroke-linecap="butt"/>
<line x1="699.94" y1="1177.90" x2="716.74" y2="1177.90" stroke="#000080" stroke-width="3.0" stroke-linecap="butt"/>
<line x1="699.94" y1="1248.70" x2="716.74" y2="1248.70" stroke="#000080" stroke-width="3.0" stroke-linecap="butt"/>
<line x1="809.96" y1="1050.90" x2="809.96" y2="1195.90" stroke="#000080" stroke-width="3.0" stroke-linecap="butt"/>
<line x1="801.56" y1="1050.90" x2="818.36" y2="1050.90" stroke="#000080" stroke-width="3.0" stroke-linecap="butt"/>
<line x1="801.56" y1="1195.90" x2="818.36" y2="1195.90" stroke="#000080" stroke-width="3.0" stroke-linecap="butt"/>
<line x1="911.59" y1="1235.30" x2="911.59" y2="1272.30" stroke="#000080" stroke-width="3.0" stroke-linecap="butt"/>
<line x1="903.19" y1="1235.30" x2="919.99" y2="1235.30" stroke="#000080" stroke-width="3.0" stroke-linecap="butt"/>
<line x1="903.19" y1="1272.30" x2="919.99" y2="1272.30" stroke="#000080" stroke-width="3.0" stroke-linecap="butt"/>
<polyline points="200.21,1277.40 301.84,1285.20 403.46,1277.30 505.09,1227.00 606.71,1222.50 708.34,1213.30 809.96,1123.40 911.59,1253.80" fill="none" stroke="#000080" stroke-width="3.1" stroke-dasharray="5.1 8.4" stroke-linecap="round" stroke-linejoin="round"/>
<rect x="191.61" y="1268.80" width="17.2" height="17.2" fill="#000080"/>
<rect x="293.24" y="1276.60" width="17.2" height="17.2" fill="#000080"/>
<rect x="394.86" y="1268.70" width="17.2" height="17.2" fill="#000080"/>
<rect x="496.49" y="1218.40" width="17.2" height="17.2" fill="#000080"/>
<rect x="598.11" y="1213.90" width="17.2" height="17.2" fill="#000080"/>
<rect x="699.74" y="1204.70" width="17.2" height="17.2" fill="#000080"/>
<rect x="801.36" y="1114.80" width="17.2" height="17.2" fill="#000080"/>
<rect x="902.99" y="1245.20" width="17.2" height="17.2" fill="#000080"/>
<line x1="149.40" y1="779.40" x2="149.40" y2="1334.70" stroke="#000" stroke-width="5.8" stroke-linecap="butt"/>
<line x1="127.00" y1="782.30" x2="149.40" y2="782.30" stroke="#000" stroke-width="5.8" stroke-linecap="butt"/>
<line x1="127.00" y1="892.20" x2="149.40" y2="892.20" stroke="#000" stroke-width="5.8" stroke-linecap="butt"/>
<line x1="127.00" y1="1002.10" x2="149.40" y2="1002.10" stroke="#000" stroke-width="5.8" stroke-linecap="butt"/>
<line x1="127.00" y1="1112.00" x2="149.40" y2="1112.00" stroke="#000" stroke-width="5.8" stroke-linecap="butt"/>
<line x1="127.00" y1="1221.90" x2="149.40" y2="1221.90" stroke="#000" stroke-width="5.8" stroke-linecap="butt"/>
<line x1="127.00" y1="1331.80" x2="149.40" y2="1331.80" stroke="#000" stroke-width="5.8" stroke-linecap="butt"/>
<line x1="127.00" y1="1331.80" x2="965.30" y2="1331.80" stroke="#000" stroke-width="5.8" stroke-linecap="butt"/>
<line x1="149.40" y1="1331.80" x2="149.40" y2="1354.50" stroke="#000" stroke-width="5.8" stroke-linecap="butt"/>
<line x1="251.03" y1="1331.80" x2="251.03" y2="1354.50" stroke="#000" stroke-width="5.8" stroke-linecap="butt"/>
<line x1="352.65" y1="1331.80" x2="352.65" y2="1354.50" stroke="#000" stroke-width="5.8" stroke-linecap="butt"/>
<line x1="454.27" y1="1331.80" x2="454.27" y2="1354.50" stroke="#000" stroke-width="5.8" stroke-linecap="butt"/>
<line x1="555.90" y1="1331.80" x2="555.90" y2="1354.50" stroke="#000" stroke-width="5.8" stroke-linecap="butt"/>
<line x1="657.52" y1="1331.80" x2="657.52" y2="1354.50" stroke="#000" stroke-width="5.8" stroke-linecap="butt"/>
<line x1="759.15" y1="1331.80" x2="759.15" y2="1354.50" stroke="#000" stroke-width="5.8" stroke-linecap="butt"/>
<line x1="860.77" y1="1331.80" x2="860.77" y2="1354.50" stroke="#000" stroke-width="5.8" stroke-linecap="butt"/>
<line x1="962.40" y1="1331.80" x2="962.40" y2="1354.50" stroke="#000" stroke-width="5.8" stroke-linecap="butt"/>
<text transform="translate(122.00 794.14) scale(0.972 1)" font-size="38.46" text-anchor="end">25</text>
<text transform="translate(122.00 904.04) scale(0.972 1)" font-size="38.46" text-anchor="end">20</text>
<text transform="translate(122.00 1013.94) scale(0.972 1)" font-size="38.46" text-anchor="end">15</text>
<text transform="translate(122.00 1123.84) scale(0.972 1)" font-size="38.46" text-anchor="end">10</text>
<text transform="translate(122.00 1233.74) scale(0.972 1)" font-size="38.46" text-anchor="end">5</text>
<text transform="translate(122.00 1343.64) scale(0.972 1)" font-size="38.46" text-anchor="end">0</text>
<text transform="translate(149.40 1395.00) scale(0.972 1)" font-size="38.46" text-anchor="middle">0</text>
<text transform="translate(251.03 1395.00) scale(0.972 1)" font-size="38.46" text-anchor="middle">15</text>
<text transform="translate(352.65 1395.00) scale(0.972 1)" font-size="38.46" text-anchor="middle">30</text>
<text transform="translate(454.27 1395.00) scale(0.972 1)" font-size="38.46" text-anchor="middle">45</text>
<text transform="translate(555.90 1395.00) scale(0.972 1)" font-size="38.46" text-anchor="middle">60</text>
<text transform="translate(657.52 1395.00) scale(0.972 1)" font-size="38.46" text-anchor="middle">75</text>
<text transform="translate(759.15 1395.00) scale(0.972 1)" font-size="38.46" text-anchor="middle">90</text>
<text transform="translate(860.77 1395.00) scale(0.972 1)" font-size="38.46" text-anchor="middle">105</text>
<text transform="translate(962.40 1395.00) scale(0.972 1)" font-size="38.46" text-anchor="middle">120</text>
<text transform="translate(176.00 797.30) scale(0.972 1)" font-size="38.46" text-anchor="start" font-weight="bold">c</text>
<text transform="translate(558.30 1454.30) scale(0.972 1)" font-size="38.46" text-anchor="middle">Drive Time (mins)</text>
<text transform="translate(54.50 1058.70) rotate(-90) scale(0.972 1)" font-size="38.46" text-anchor="middle">LEC Rate/15 min</text>
<line x1="201.44" y1="1827.70" x2="201.44" y2="1882.30" stroke="#9e0000" stroke-width="3.0" stroke-linecap="butt"/>
<line x1="190.44" y1="1827.70" x2="212.44" y2="1827.70" stroke="#9e0000" stroke-width="3.0" stroke-linecap="butt"/>
<line x1="190.44" y1="1882.30" x2="212.44" y2="1882.30" stroke="#9e0000" stroke-width="3.0" stroke-linecap="butt"/>
<line x1="305.03" y1="1740.90" x2="305.03" y2="1826.90" stroke="#9e0000" stroke-width="3.0" stroke-linecap="butt"/>
<line x1="294.03" y1="1740.90" x2="316.03" y2="1740.90" stroke="#9e0000" stroke-width="3.0" stroke-linecap="butt"/>
<line x1="294.03" y1="1826.90" x2="316.03" y2="1826.90" stroke="#9e0000" stroke-width="3.0" stroke-linecap="butt"/>
<line x1="408.62" y1="1726.20" x2="408.62" y2="1812.20" stroke="#9e0000" stroke-width="3.0" stroke-linecap="butt"/>
<line x1="397.62" y1="1726.20" x2="419.62" y2="1726.20" stroke="#9e0000" stroke-width="3.0" stroke-linecap="butt"/>
<line x1="397.62" y1="1812.20" x2="419.62" y2="1812.20" stroke="#9e0000" stroke-width="3.0" stroke-linecap="butt"/>
<line x1="512.22" y1="1673.90" x2="512.22" y2="1784.10" stroke="#9e0000" stroke-width="3.0" stroke-linecap="butt"/>
<line x1="501.22" y1="1673.90" x2="523.22" y2="1673.90" stroke="#9e0000" stroke-width="3.0" stroke-linecap="butt"/>
<line x1="501.22" y1="1784.10" x2="523.22" y2="1784.10" stroke="#9e0000" stroke-width="3.0" stroke-linecap="butt"/>
<line x1="615.80" y1="1683.50" x2="615.80" y2="1788.30" stroke="#9e0000" stroke-width="3.0" stroke-linecap="butt"/>
<line x1="604.80" y1="1683.50" x2="626.80" y2="1683.50" stroke="#9e0000" stroke-width="3.0" stroke-linecap="butt"/>
<line x1="604.80" y1="1788.30" x2="626.80" y2="1788.30" stroke="#9e0000" stroke-width="3.0" stroke-linecap="butt"/>
<line x1="719.39" y1="1674.40" x2="719.39" y2="1785.60" stroke="#9e0000" stroke-width="3.0" stroke-linecap="butt"/>
<line x1="708.39" y1="1674.40" x2="730.39" y2="1674.40" stroke="#9e0000" stroke-width="3.0" stroke-linecap="butt"/>
<line x1="708.39" y1="1785.60" x2="730.39" y2="1785.60" stroke="#9e0000" stroke-width="3.0" stroke-linecap="butt"/>
<line x1="822.98" y1="1621.50" x2="822.98" y2="1756.50" stroke="#9e0000" stroke-width="3.0" stroke-linecap="butt"/>
<line x1="811.98" y1="1621.50" x2="833.98" y2="1621.50" stroke="#9e0000" stroke-width="3.0" stroke-linecap="butt"/>
<line x1="811.98" y1="1756.50" x2="833.98" y2="1756.50" stroke="#9e0000" stroke-width="3.0" stroke-linecap="butt"/>
<line x1="926.57" y1="1622.80" x2="926.57" y2="1760.40" stroke="#9e0000" stroke-width="3.0" stroke-linecap="butt"/>
<line x1="915.57" y1="1622.80" x2="937.57" y2="1622.80" stroke="#9e0000" stroke-width="3.0" stroke-linecap="butt"/>
<line x1="915.57" y1="1760.40" x2="937.57" y2="1760.40" stroke="#9e0000" stroke-width="3.0" stroke-linecap="butt"/>
<polyline points="201.44,1855.00 305.03,1783.90 408.62,1769.20 512.22,1729.00 615.80,1735.90 719.39,1730.00 822.98,1689.00 926.57,1691.60" fill="none" stroke="#9e0000" stroke-width="3.1" stroke-linejoin="round"/>
<polygon points="201.44,1843.40 212.84,1865.90 190.04,1865.90" fill="#9e0000"/>
<polygon points="305.03,1772.30 316.43,1794.80 293.63,1794.80" fill="#9e0000"/>
<polygon points="408.62,1757.60 420.02,1780.10 397.23,1780.10" fill="#9e0000"/>
<polygon points="512.22,1717.40 523.62,1739.90 500.82,1739.90" fill="#9e0000"/>
<polygon points="615.80,1724.30 627.20,1746.80 604.40,1746.80" fill="#9e0000"/>
<polygon points="719.39,1718.40 730.79,1740.90 708.00,1740.90" fill="#9e0000"/>
<polygon points="822.98,1677.40 834.38,1699.90 811.58,1699.90" fill="#9e0000"/>
<polygon points="926.57,1680.00 937.97,1702.50 915.17,1702.50" fill="#9e0000"/>
<line x1="201.44" y1="1683.20" x2="201.44" y2="1807.20" stroke="#000080" stroke-width="3.0" stroke-linecap="butt"/>
<line x1="193.04" y1="1683.20" x2="209.84" y2="1683.20" stroke="#000080" stroke-width="3.0" stroke-linecap="butt"/>
<line x1="193.04" y1="1807.20" x2="209.84" y2="1807.20" stroke="#000080" stroke-width="3.0" stroke-linecap="butt"/>
<line x1="305.03" y1="1597.40" x2="305.03" y2="1727.60" stroke="#000080" stroke-width="3.0" stroke-linecap="butt"/>
<line x1="296.63" y1="1597.40" x2="313.43" y2="1597.40" stroke="#000080" stroke-width="3.0" stroke-linecap="butt"/>
<line x1="296.63" y1="1727.60" x2="313.43" y2="1727.60" stroke="#000080" stroke-width="3.0" stroke-linecap="butt"/>
<line x1="408.62" y1="1572.70" x2="408.62" y2="1705.70" stroke="#000080" stroke-width="3.0" stroke-linecap="butt"/>
<line x1="400.23" y1="1572.70" x2="417.02" y2="1572.70" stroke="#000080" stroke-width="3.0" stroke-linecap="butt"/>
<line x1="400.23" y1="1705.70" x2="417.02" y2="1705.70" stroke="#000080" stroke-width="3.0" stroke-linecap="butt"/>
<line x1="512.22" y1="1555.70" x2="512.22" y2="1692.30" stroke="#000080" stroke-width="3.0" stroke-linecap="butt"/>
<line x1="503.82" y1="1555.70" x2="520.62" y2="1555.70" stroke="#000080" stroke-width="3.0" stroke-linecap="butt"/>
<line x1="503.82" y1="1692.30" x2="520.62" y2="1692.30" stroke="#000080" stroke-width="3.0" stroke-linecap="butt"/>
<line x1="615.80" y1="1491.10" x2="615.80" y2="1631.30" stroke="#000080" stroke-width="3.0" stroke-linecap="butt"/>
<line x1="607.40" y1="1491.10" x2="624.20" y2="1491.10" stroke="#000080" stroke-width="3.0" stroke-linecap="butt"/>
<line x1="607.40" y1="1631.30" x2="624.20" y2="1631.30" stroke="#000080" stroke-width="3.0" stroke-linecap="butt"/>
<line x1="719.39" y1="1463.80" x2="719.39" y2="1634.80" stroke="#000080" stroke-width="3.0" stroke-linecap="butt"/>
<line x1="711.00" y1="1463.80" x2="727.79" y2="1463.80" stroke="#000080" stroke-width="3.0" stroke-linecap="butt"/>
<line x1="711.00" y1="1634.80" x2="727.79" y2="1634.80" stroke="#000080" stroke-width="3.0" stroke-linecap="butt"/>
<line x1="822.98" y1="1471.90" x2="822.98" y2="1637.90" stroke="#000080" stroke-width="3.0" stroke-linecap="butt"/>
<line x1="814.58" y1="1471.90" x2="831.38" y2="1471.90" stroke="#000080" stroke-width="3.0" stroke-linecap="butt"/>
<line x1="814.58" y1="1637.90" x2="831.38" y2="1637.90" stroke="#000080" stroke-width="3.0" stroke-linecap="butt"/>
<line x1="926.57" y1="1474.60" x2="926.57" y2="1651.80" stroke="#000080" stroke-width="3.0" stroke-linecap="butt"/>
<line x1="918.17" y1="1474.60" x2="934.97" y2="1474.60" stroke="#000080" stroke-width="3.0" stroke-linecap="butt"/>
<line x1="918.17" y1="1651.80" x2="934.97" y2="1651.80" stroke="#000080" stroke-width="3.0" stroke-linecap="butt"/>
<polyline points="201.44,1745.20 305.03,1662.50 408.62,1639.20 512.22,1624.00 615.80,1561.20 719.39,1549.30 822.98,1554.90 926.57,1563.20" fill="none" stroke="#000080" stroke-width="3.1" stroke-linejoin="round"/>
<rect x="192.84" y="1736.60" width="17.2" height="17.2" fill="#000080"/>
<rect x="296.43" y="1653.90" width="17.2" height="17.2" fill="#000080"/>
<rect x="400.02" y="1630.60" width="17.2" height="17.2" fill="#000080"/>
<rect x="503.62" y="1615.40" width="17.2" height="17.2" fill="#000080"/>
<rect x="607.20" y="1552.60" width="17.2" height="17.2" fill="#000080"/>
<rect x="710.79" y="1540.70" width="17.2" height="17.2" fill="#000080"/>
<rect x="814.38" y="1546.30" width="17.2" height="17.2" fill="#000080"/>
<rect x="917.97" y="1554.60" width="17.2" height="17.2" fill="#000080"/>
<line x1="201.44" y1="1832.00" x2="201.44" y2="1884.00" stroke="#9e0000" stroke-width="3.0" stroke-linecap="butt"/>
<line x1="190.44" y1="1832.00" x2="212.44" y2="1832.00" stroke="#9e0000" stroke-width="3.0" stroke-linecap="butt"/>
<line x1="190.44" y1="1884.00" x2="212.44" y2="1884.00" stroke="#9e0000" stroke-width="3.0" stroke-linecap="butt"/>
<line x1="305.03" y1="1773.30" x2="305.03" y2="1850.70" stroke="#9e0000" stroke-width="3.0" stroke-linecap="butt"/>
<line x1="294.03" y1="1773.30" x2="316.03" y2="1773.30" stroke="#9e0000" stroke-width="3.0" stroke-linecap="butt"/>
<line x1="294.03" y1="1850.70" x2="316.03" y2="1850.70" stroke="#9e0000" stroke-width="3.0" stroke-linecap="butt"/>
<line x1="408.62" y1="1706.00" x2="408.62" y2="1821.60" stroke="#9e0000" stroke-width="3.0" stroke-linecap="butt"/>
<line x1="397.62" y1="1706.00" x2="419.62" y2="1706.00" stroke="#9e0000" stroke-width="3.0" stroke-linecap="butt"/>
<line x1="397.62" y1="1821.60" x2="419.62" y2="1821.60" stroke="#9e0000" stroke-width="3.0" stroke-linecap="butt"/>
<line x1="512.22" y1="1698.40" x2="512.22" y2="1830.60" stroke="#9e0000" stroke-width="3.0" stroke-linecap="butt"/>
<line x1="501.22" y1="1698.40" x2="523.22" y2="1698.40" stroke="#9e0000" stroke-width="3.0" stroke-linecap="butt"/>
<line x1="501.22" y1="1830.60" x2="523.22" y2="1830.60" stroke="#9e0000" stroke-width="3.0" stroke-linecap="butt"/>
<line x1="615.80" y1="1685.80" x2="615.80" y2="1797.60" stroke="#9e0000" stroke-width="3.0" stroke-linecap="butt"/>
<line x1="604.80" y1="1685.80" x2="626.80" y2="1685.80" stroke="#9e0000" stroke-width="3.0" stroke-linecap="butt"/>
<line x1="604.80" y1="1797.60" x2="626.80" y2="1797.60" stroke="#9e0000" stroke-width="3.0" stroke-linecap="butt"/>
<line x1="719.39" y1="1709.30" x2="719.39" y2="1818.10" stroke="#9e0000" stroke-width="3.0" stroke-linecap="butt"/>
<line x1="708.39" y1="1709.30" x2="730.39" y2="1709.30" stroke="#9e0000" stroke-width="3.0" stroke-linecap="butt"/>
<line x1="708.39" y1="1818.10" x2="730.39" y2="1818.10" stroke="#9e0000" stroke-width="3.0" stroke-linecap="butt"/>
<line x1="822.98" y1="1694.10" x2="822.98" y2="1810.50" stroke="#9e0000" stroke-width="3.0" stroke-linecap="butt"/>
<line x1="811.98" y1="1694.10" x2="833.98" y2="1694.10" stroke="#9e0000" stroke-width="3.0" stroke-linecap="butt"/>
<line x1="811.98" y1="1810.50" x2="833.98" y2="1810.50" stroke="#9e0000" stroke-width="3.0" stroke-linecap="butt"/>
<line x1="926.57" y1="1669.30" x2="926.57" y2="1797.30" stroke="#9e0000" stroke-width="3.0" stroke-linecap="butt"/>
<line x1="915.57" y1="1669.30" x2="937.57" y2="1669.30" stroke="#9e0000" stroke-width="3.0" stroke-linecap="butt"/>
<line x1="915.57" y1="1797.30" x2="937.57" y2="1797.30" stroke="#9e0000" stroke-width="3.0" stroke-linecap="butt"/>
<polyline points="201.44,1858.00 305.03,1812.00 408.62,1763.80 512.22,1764.50 615.80,1741.70 719.39,1763.70 822.98,1752.30 926.57,1733.30" fill="none" stroke="#9e0000" stroke-width="3.1" stroke-dasharray="5.1 8.4" stroke-linecap="round" stroke-linejoin="round"/>
<polygon points="201.44,1846.40 212.84,1868.90 190.04,1868.90" fill="#9e0000"/>
<polygon points="305.03,1800.40 316.43,1822.90 293.63,1822.90" fill="#9e0000"/>
<polygon points="408.62,1752.20 420.02,1774.70 397.23,1774.70" fill="#9e0000"/>
<polygon points="512.22,1752.90 523.62,1775.40 500.82,1775.40" fill="#9e0000"/>
<polygon points="615.80,1730.10 627.20,1752.60 604.40,1752.60" fill="#9e0000"/>
<polygon points="719.39,1752.10 730.79,1774.60 708.00,1774.60" fill="#9e0000"/>
<polygon points="822.98,1740.70 834.38,1763.20 811.58,1763.20" fill="#9e0000"/>
<polygon points="926.57,1721.70 937.97,1744.20 915.17,1744.20" fill="#9e0000"/>
<line x1="201.44" y1="1842.10" x2="201.44" y2="1894.30" stroke="#000080" stroke-width="3.0" stroke-linecap="butt"/>
<line x1="193.04" y1="1842.10" x2="209.84" y2="1842.10" stroke="#000080" stroke-width="3.0" stroke-linecap="butt"/>
<line x1="193.04" y1="1894.30" x2="209.84" y2="1894.30" stroke="#000080" stroke-width="3.0" stroke-linecap="butt"/>
<line x1="305.03" y1="1803.40" x2="305.03" y2="1861.60" stroke="#000080" stroke-width="3.0" stroke-linecap="butt"/>
<line x1="296.63" y1="1803.40" x2="313.43" y2="1803.40" stroke="#000080" stroke-width="3.0" stroke-linecap="butt"/>
<line x1="296.63" y1="1861.60" x2="313.43" y2="1861.60" stroke="#000080" stroke-width="3.0" stroke-linecap="butt"/>
<line x1="408.62" y1="1769.50" x2="408.62" y2="1835.30" stroke="#000080" stroke-width="3.0" stroke-linecap="butt"/>
<line x1="400.23" y1="1769.50" x2="417.02" y2="1769.50" stroke="#000080" stroke-width="3.0" stroke-linecap="butt"/>
<line x1="400.23" y1="1835.30" x2="417.02" y2="1835.30" stroke="#000080" stroke-width="3.0" stroke-linecap="butt"/>
<line x1="512.22" y1="1702.50" x2="512.22" y2="1793.10" stroke="#000080" stroke-width="3.0" stroke-linecap="butt"/>
<line x1="503.82" y1="1702.50" x2="520.62" y2="1702.50" stroke="#000080" stroke-width="3.0" stroke-linecap="butt"/>
<line x1="503.82" y1="1793.10" x2="520.62" y2="1793.10" stroke="#000080" stroke-width="3.0" stroke-linecap="butt"/>
<line x1="615.80" y1="1751.00" x2="615.80" y2="1825.40" stroke="#000080" stroke-width="3.0" stroke-linecap="butt"/>
<line x1="607.40" y1="1751.00" x2="624.20" y2="1751.00" stroke="#000080" stroke-width="3.0" stroke-linecap="butt"/>
<line x1="607.40" y1="1825.40" x2="624.20" y2="1825.40" stroke="#000080" stroke-width="3.0" stroke-linecap="butt"/>
<line x1="719.39" y1="1735.90" x2="719.39" y2="1819.30" stroke="#000080" stroke-width="3.0" stroke-linecap="butt"/>
<line x1="711.00" y1="1735.90" x2="727.79" y2="1735.90" stroke="#000080" stroke-width="3.0" stroke-linecap="butt"/>
<line x1="711.00" y1="1819.30" x2="727.79" y2="1819.30" stroke="#000080" stroke-width="3.0" stroke-linecap="butt"/>
<line x1="822.98" y1="1717.60" x2="822.98" y2="1805.80" stroke="#000080" stroke-width="3.0" stroke-linecap="butt"/>
<line x1="814.58" y1="1717.60" x2="831.38" y2="1717.60" stroke="#000080" stroke-width="3.0" stroke-linecap="butt"/>
<line x1="814.58" y1="1805.80" x2="831.38" y2="1805.80" stroke="#000080" stroke-width="3.0" stroke-linecap="butt"/>
<line x1="926.57" y1="1766.20" x2="926.57" y2="1829.60" stroke="#000080" stroke-width="3.0" stroke-linecap="butt"/>
<line x1="918.17" y1="1766.20" x2="934.97" y2="1766.20" stroke="#000080" stroke-width="3.0" stroke-linecap="butt"/>
<line x1="918.17" y1="1829.60" x2="934.97" y2="1829.60" stroke="#000080" stroke-width="3.0" stroke-linecap="butt"/>
<polyline points="201.44,1868.20 305.03,1832.50 408.62,1802.40 512.22,1747.80 615.80,1788.20 719.39,1777.60 822.98,1761.70 926.57,1797.90" fill="none" stroke="#000080" stroke-width="3.1" stroke-dasharray="5.1 8.4" stroke-linecap="round" stroke-linejoin="round"/>
<rect x="192.84" y="1859.60" width="17.2" height="17.2" fill="#000080"/>
<rect x="296.43" y="1823.90" width="17.2" height="17.2" fill="#000080"/>
<rect x="400.02" y="1793.80" width="17.2" height="17.2" fill="#000080"/>
<rect x="503.62" y="1739.20" width="17.2" height="17.2" fill="#000080"/>
<rect x="607.20" y="1779.60" width="17.2" height="17.2" fill="#000080"/>
<rect x="710.79" y="1769.00" width="17.2" height="17.2" fill="#000080"/>
<rect x="814.38" y="1753.10" width="17.2" height="17.2" fill="#000080"/>
<rect x="917.97" y="1789.30" width="17.2" height="17.2" fill="#000080"/>
<line x1="149.65" y1="1456.40" x2="149.65" y2="2022.60" stroke="#000" stroke-width="5.8" stroke-linecap="butt"/>
<line x1="127.00" y1="1459.30" x2="149.65" y2="1459.30" stroke="#000" stroke-width="5.8" stroke-linecap="butt"/>
<line x1="127.00" y1="1599.40" x2="149.65" y2="1599.40" stroke="#000" stroke-width="5.8" stroke-linecap="butt"/>
<line x1="127.00" y1="1739.50" x2="149.65" y2="1739.50" stroke="#000" stroke-width="5.8" stroke-linecap="butt"/>
<line x1="127.00" y1="1879.60" x2="149.65" y2="1879.60" stroke="#000" stroke-width="5.8" stroke-linecap="butt"/>
<line x1="127.00" y1="2019.70" x2="149.65" y2="2019.70" stroke="#000" stroke-width="5.8" stroke-linecap="butt"/>
<line x1="127.00" y1="2019.70" x2="981.27" y2="2019.70" stroke="#000" stroke-width="5.8" stroke-linecap="butt"/>
<line x1="149.65" y1="2019.70" x2="149.65" y2="2043.00" stroke="#000" stroke-width="5.8" stroke-linecap="butt"/>
<line x1="253.24" y1="2019.70" x2="253.24" y2="2043.00" stroke="#000" stroke-width="5.8" stroke-linecap="butt"/>
<line x1="356.83" y1="2019.70" x2="356.83" y2="2043.00" stroke="#000" stroke-width="5.8" stroke-linecap="butt"/>
<line x1="460.42" y1="2019.70" x2="460.42" y2="2043.00" stroke="#000" stroke-width="5.8" stroke-linecap="butt"/>
<line x1="564.01" y1="2019.70" x2="564.01" y2="2043.00" stroke="#000" stroke-width="5.8" stroke-linecap="butt"/>
<line x1="667.60" y1="2019.70" x2="667.60" y2="2043.00" stroke="#000" stroke-width="5.8" stroke-linecap="butt"/>
<line x1="771.19" y1="2019.70" x2="771.19" y2="2043.00" stroke="#000" stroke-width="5.8" stroke-linecap="butt"/>
<line x1="874.78" y1="2019.70" x2="874.78" y2="2043.00" stroke="#000" stroke-width="5.8" stroke-linecap="butt"/>
<line x1="978.37" y1="2019.70" x2="978.37" y2="2043.00" stroke="#000" stroke-width="5.8" stroke-linecap="butt"/>
<text transform="translate(121.20 1471.37) scale(0.972 1)" font-size="39.20" text-anchor="end">8</text>
<text transform="translate(121.20 1611.47) scale(0.972 1)" font-size="39.20" text-anchor="end">6</text>
<text transform="translate(121.20 1751.57) scale(0.972 1)" font-size="39.20" text-anchor="end">4</text>
<text transform="translate(121.20 1891.67) scale(0.972 1)" font-size="39.20" text-anchor="end">2</text>
<text transform="translate(121.20 2031.77) scale(0.972 1)" font-size="39.20" text-anchor="end">0</text>
<text transform="translate(149.65 2084.00) scale(0.972 1)" font-size="39.20" text-anchor="middle">0</text>
<text transform="translate(253.24 2084.00) scale(0.972 1)" font-size="39.20" text-anchor="middle">15</text>
<text transform="translate(356.83 2084.00) scale(0.972 1)" font-size="39.20" text-anchor="middle">30</text>
<text transform="translate(460.42 2084.00) scale(0.972 1)" font-size="39.20" text-anchor="middle">45</text>
<text transform="translate(564.01 2084.00) scale(0.972 1)" font-size="39.20" text-anchor="middle">60</text>
<text transform="translate(667.60 2084.00) scale(0.972 1)" font-size="39.20" text-anchor="middle">75</text>
<text transform="translate(771.19 2084.00) scale(0.972 1)" font-size="39.20" text-anchor="middle">90</text>
<text transform="translate(874.78 2084.00) scale(0.972 1)" font-size="39.20" text-anchor="middle">105</text>
<text transform="translate(978.37 2084.00) scale(0.972 1)" font-size="39.20" text-anchor="middle">120</text>
<text transform="translate(176.00 1482.30) scale(0.972 1)" font-size="39.20" text-anchor="start" font-weight="bold">e</text>
<text transform="translate(566.50 2145.00) scale(0.972 1)" font-size="39.20" text-anchor="middle">Drive Time (mins)</text>
<text transform="translate(72.50 1739.90) rotate(-90) scale(0.972 1)" font-size="39.20" text-anchor="middle">PERCLOS (%)</text>
<line x1="166.90" y1="1927.80" x2="227.90" y2="1927.80" stroke="#000080" stroke-width="1.9" stroke-dasharray="5.6 6.4" stroke-linecap="round"/>
<rect x="188.80" y="1919.20" width="17.2" height="17.2" fill="#000080"/>
<text x="259.0" y="1942.8" font-size="39.2" textLength="286.0" lengthAdjust="spacingAndGlyphs" xml:space="preserve">Well  Rested Younger</text>
<line x1="166.90" y1="1991.20" x2="227.90" y2="1991.20" stroke="#9e0000" stroke-width="1.9" stroke-dasharray="5.6 6.4" stroke-linecap="round"/>
<polygon points="197.40,1979.60 208.80,2002.10 186.00,2002.10" fill="#9e0000"/>
<text x="259.0" y="2005.6" font-size="39.2" textLength="237.5" lengthAdjust="spacingAndGlyphs" xml:space="preserve">Well Rested Older</text>
<line x1="551.80" y1="1927.80" x2="610.10" y2="1927.80" stroke="#000080" stroke-width="1.9" stroke-linecap="butt"/>
<rect x="572.35" y="1919.20" width="17.2" height="17.2" fill="#000080"/>
<text x="642.5" y="1942.8" font-size="39.2" textLength="324.0" lengthAdjust="spacingAndGlyphs" xml:space="preserve">Sleep Deprived Younger</text>
<line x1="551.80" y1="1991.20" x2="610.10" y2="1991.20" stroke="#9e0000" stroke-width="1.9" stroke-linecap="butt"/>
<polygon points="580.95,1979.60 592.35,2002.10 569.55,2002.10" fill="#9e0000"/>
<text x="642.5" y="2005.6" font-size="39.2" textLength="283.5" lengthAdjust="spacingAndGlyphs" xml:space="preserve">Sleep Deprived Older</text>
<rect x="1163.65" y="480.35" width="102.40" height="129.65" fill="#fff" stroke="#000080" stroke-width="2.7"/>
<rect x="1322.15" y="418.45" width="102.00" height="191.55" fill="#8e93cf" stroke="#000080" stroke-width="2.7"/>
<circle cx="1209.4" cy="437.9" r="2.75" fill="#fff" stroke="#000080" stroke-width="2.5"/>
<circle cx="1220.3" cy="439.9" r="2.75" fill="#fff" stroke="#000080" stroke-width="2.5"/>
<circle cx="1209.4" cy="444.2" r="2.75" fill="#fff" stroke="#000080" stroke-width="2.5"/>
<circle cx="1209.4" cy="470.5" r="2.75" fill="#fff" stroke="#000080" stroke-width="2.5"/>
<circle cx="1209.4" cy="475.8" r="2.75" fill="#fff" stroke="#000080" stroke-width="2.5"/>
<circle cx="1220.3" cy="475.6" r="2.75" fill="#fff" stroke="#000080" stroke-width="2.5"/>
<circle cx="1231.2" cy="486.5" r="2.75" fill="#fff" stroke="#000080" stroke-width="2.5"/>
<circle cx="1198.6" cy="491.3" r="2.75" fill="#fff" stroke="#000080" stroke-width="2.5"/>
<circle cx="1209.4" cy="492.0" r="2.75" fill="#fff" stroke="#000080" stroke-width="2.5"/>
<circle cx="1220.3" cy="491.3" r="2.75" fill="#fff" stroke="#000080" stroke-width="2.5"/>
<circle cx="1231.2" cy="492.5" r="2.75" fill="#fff" stroke="#000080" stroke-width="2.5"/>
<circle cx="1209.4" cy="499.5" r="2.75" fill="#fff" stroke="#000080" stroke-width="2.5"/>
<circle cx="1220.3" cy="500.7" r="2.75" fill="#fff" stroke="#000080" stroke-width="2.5"/>
<circle cx="1215.0" cy="511.8" r="2.75" fill="#fff" stroke="#000080" stroke-width="2.5"/>
<circle cx="1373.4" cy="249.5" r="4.2" fill="#000080"/>
<circle cx="1367.6" cy="301.2" r="4.2" fill="#000080"/>
<circle cx="1378.7" cy="301.2" r="4.2" fill="#000080"/>
<circle cx="1373.4" cy="372.0" r="4.2" fill="#000080"/>
<circle cx="1373.4" cy="399.8" r="4.2" fill="#000080"/>
<circle cx="1373.4" cy="446.1" r="4.2" fill="#000080"/>
<circle cx="1373.4" cy="453.9" r="4.2" fill="#000080"/>
<circle cx="1379.2" cy="461.8" r="4.2" fill="#000080"/>
<circle cx="1357.0" cy="465.2" r="4.2" fill="#000080"/>
<circle cx="1367.9" cy="466.2" r="4.2" fill="#000080"/>
<circle cx="1379.2" cy="467.1" r="4.2" fill="#000080"/>
<circle cx="1367.9" cy="478.0" r="4.2" fill="#000080"/>
<circle cx="1379.2" cy="480.7" r="4.2" fill="#000080"/>
<circle cx="1373.4" cy="494.0" r="4.2" fill="#000080"/>
<line x1="1215.00" y1="472.50" x2="1215.00" y2="485.50" stroke="#000080" stroke-width="2.7" stroke-linecap="butt"/>
<line x1="1188.70" y1="472.50" x2="1241.30" y2="472.50" stroke="#000080" stroke-width="2.7" stroke-linecap="butt"/>
<line x1="1188.70" y1="485.50" x2="1241.30" y2="485.50" stroke="#000080" stroke-width="2.7" stroke-linecap="butt"/>
<line x1="1373.40" y1="395.90" x2="1373.40" y2="438.20" stroke="#000080" stroke-width="2.7" stroke-linecap="butt"/>
<line x1="1347.10" y1="395.90" x2="1399.70" y2="395.90" stroke="#000080" stroke-width="2.7" stroke-linecap="butt"/>
<line x1="1347.10" y1="438.20" x2="1399.70" y2="438.20" stroke="#000080" stroke-width="2.7" stroke-linecap="butt"/>
<line x1="1152.20" y1="46.05" x2="1152.20" y2="612.90" stroke="#000" stroke-width="5.8" stroke-linecap="butt"/>
<line x1="1129.70" y1="48.95" x2="1152.20" y2="48.95" stroke="#000" stroke-width="5.8" stroke-linecap="butt"/>
<line x1="1129.70" y1="129.10" x2="1152.20" y2="129.10" stroke="#000" stroke-width="5.8" stroke-linecap="butt"/>
<line x1="1129.70" y1="209.25" x2="1152.20" y2="209.25" stroke="#000" stroke-width="5.8" stroke-linecap="butt"/>
<line x1="1129.70" y1="289.40" x2="1152.20" y2="289.40" stroke="#000" stroke-width="5.8" stroke-linecap="butt"/>
<line x1="1129.70" y1="369.55" x2="1152.20" y2="369.55" stroke="#000" stroke-width="5.8" stroke-linecap="butt"/>
<line x1="1129.70" y1="449.70" x2="1152.20" y2="449.70" stroke="#000" stroke-width="5.8" stroke-linecap="butt"/>
<line x1="1129.70" y1="529.85" x2="1152.20" y2="529.85" stroke="#000" stroke-width="5.8" stroke-linecap="butt"/>
<line x1="1129.70" y1="610.00" x2="1152.20" y2="610.00" stroke="#000" stroke-width="5.8" stroke-linecap="butt"/>
<line x1="1129.70" y1="610.00" x2="1439.30" y2="610.00" stroke="#000" stroke-width="5.8" stroke-linecap="butt"/>
<line x1="1215.00" y1="610.00" x2="1215.00" y2="633.00" stroke="#000" stroke-width="5.8" stroke-linecap="butt"/>
<line x1="1373.70" y1="610.00" x2="1373.70" y2="633.00" stroke="#000" stroke-width="5.8" stroke-linecap="butt"/>
<text transform="translate(1123.00 61.02) scale(0.972 1)" font-size="39.20" text-anchor="end">700</text>
<text transform="translate(1123.00 141.17) scale(0.972 1)" font-size="39.20" text-anchor="end">600</text>
<text transform="translate(1123.00 221.32) scale(0.972 1)" font-size="39.20" text-anchor="end">500</text>
<text transform="translate(1123.00 301.47) scale(0.972 1)" font-size="39.20" text-anchor="end">400</text>
<text transform="translate(1123.00 381.62) scale(0.972 1)" font-size="39.20" text-anchor="end">300</text>
<text transform="translate(1123.00 461.77) scale(0.972 1)" font-size="39.20" text-anchor="end">200</text>
<text transform="translate(1123.00 541.92) scale(0.972 1)" font-size="39.20" text-anchor="end">100</text>
<text transform="translate(1123.00 622.07) scale(0.972 1)" font-size="39.20" text-anchor="end">0</text>
<text transform="translate(1215.00 671.80) scale(0.972 1)" font-size="39.20" text-anchor="middle">Well</text>
<text transform="translate(1215.00 713.50) scale(0.972 1)" font-size="39.20" text-anchor="middle">Rested</text>
<text transform="translate(1373.70 671.80) scale(0.972 1)" font-size="39.20" text-anchor="middle">Sleep</text>
<text transform="translate(1373.70 713.50) scale(0.972 1)" font-size="39.20" text-anchor="middle">Deprived</text>
<rect x="1522.05" y="454.45" width="101.40" height="155.55" fill="#fff" stroke="#9e0000" stroke-width="2.7"/>
<rect x="1679.55" y="440.45" width="101.90" height="169.55" fill="#d9b1b1" stroke="#9e0000" stroke-width="2.7"/>
<circle cx="1572.6" cy="227.8" r="2.75" fill="#fff" stroke="#9e0000" stroke-width="2.5"/>
<circle cx="1572.6" cy="387.0" r="2.75" fill="#fff" stroke="#9e0000" stroke-width="2.5"/>
<circle cx="1572.6" cy="403.4" r="2.75" fill="#fff" stroke="#9e0000" stroke-width="2.5"/>
<circle cx="1572.6" cy="423.2" r="2.75" fill="#fff" stroke="#9e0000" stroke-width="2.5"/>
<circle cx="1572.6" cy="434.3" r="2.75" fill="#fff" stroke="#9e0000" stroke-width="2.5"/>
<circle cx="1572.6" cy="450.5" r="2.75" fill="#fff" stroke="#9e0000" stroke-width="2.5"/>
<circle cx="1572.6" cy="465.2" r="2.75" fill="#fff" stroke="#9e0000" stroke-width="2.5"/>
<circle cx="1567.3" cy="473.9" r="2.75" fill="#fff" stroke="#9e0000" stroke-width="2.5"/>
<circle cx="1578.2" cy="473.7" r="2.75" fill="#fff" stroke="#9e0000" stroke-width="2.5"/>
<circle cx="1572.6" cy="486.7" r="2.75" fill="#fff" stroke="#9e0000" stroke-width="2.5"/>
<circle cx="1567.3" cy="500.0" r="2.75" fill="#fff" stroke="#9e0000" stroke-width="2.5"/>
<circle cx="1589.1" cy="501.7" r="2.75" fill="#fff" stroke="#9e0000" stroke-width="2.5"/>
<circle cx="1556.2" cy="504.8" r="2.75" fill="#fff" stroke="#9e0000" stroke-width="2.5"/>
<circle cx="1578.2" cy="505.3" r="2.75" fill="#fff" stroke="#9e0000" stroke-width="2.5"/>
<circle cx="1567.3" cy="511.6" r="2.75" fill="#fff" stroke="#9e0000" stroke-width="2.5"/>
<circle cx="1578.2" cy="511.6" r="2.75" fill="#fff" stroke="#9e0000" stroke-width="2.5"/>
<circle cx="1730.6" cy="107.7" r="4.2" fill="#9e0000"/>
<circle cx="1725.1" cy="395.9" r="4.2" fill="#9e0000"/>
<circle cx="1736.2" cy="396.4" r="4.2" fill="#9e0000"/>
<circle cx="1730.6" cy="411.4" r="4.2" fill="#9e0000"/>
<circle cx="1730.6" cy="428.7" r="4.2" fill="#9e0000"/>
<circle cx="1736.2" cy="450.0" r="4.2" fill="#9e0000"/>
<circle cx="1725.1" cy="452.7" r="4.2" fill="#9e0000"/>
<circle cx="1730.6" cy="463.8" r="4.2" fill="#9e0000"/>
<circle cx="1719.7" cy="469.6" r="4.2" fill="#9e0000"/>
<circle cx="1730.6" cy="473.9" r="4.2" fill="#9e0000"/>
<circle cx="1730.6" cy="481.2" r="4.2" fill="#9e0000"/>
<circle cx="1730.6" cy="487.2" r="4.2" fill="#9e0000"/>
<circle cx="1719.7" cy="500.2" r="4.2" fill="#9e0000"/>
<circle cx="1741.7" cy="500.2" r="4.2" fill="#9e0000"/>
<circle cx="1730.6" cy="502.9" r="4.2" fill="#9e0000"/>
<circle cx="1730.6" cy="509.2" r="4.2" fill="#9e0000"/>
<line x1="1572.60" y1="436.00" x2="1572.60" y2="471.70" stroke="#9e0000" stroke-width="2.7" stroke-linecap="butt"/>
<line x1="1546.30" y1="436.00" x2="1598.90" y2="436.00" stroke="#9e0000" stroke-width="2.7" stroke-linecap="butt"/>
<line x1="1546.30" y1="471.70" x2="1598.90" y2="471.70" stroke="#9e0000" stroke-width="2.7" stroke-linecap="butt"/>
<line x1="1730.60" y1="415.50" x2="1730.60" y2="463.80" stroke="#9e0000" stroke-width="2.7" stroke-linecap="butt"/>
<line x1="1704.30" y1="415.50" x2="1756.90" y2="415.50" stroke="#9e0000" stroke-width="2.7" stroke-linecap="butt"/>
<line x1="1704.30" y1="463.80" x2="1756.90" y2="463.80" stroke="#9e0000" stroke-width="2.7" stroke-linecap="butt"/>
<line x1="1510.30" y1="46.05" x2="1510.30" y2="612.90" stroke="#000" stroke-width="5.8" stroke-linecap="butt"/>
<line x1="1487.10" y1="48.95" x2="1510.30" y2="48.95" stroke="#000" stroke-width="5.8" stroke-linecap="butt"/>
<line x1="1487.10" y1="129.10" x2="1510.30" y2="129.10" stroke="#000" stroke-width="5.8" stroke-linecap="butt"/>
<line x1="1487.10" y1="209.25" x2="1510.30" y2="209.25" stroke="#000" stroke-width="5.8" stroke-linecap="butt"/>
<line x1="1487.10" y1="289.40" x2="1510.30" y2="289.40" stroke="#000" stroke-width="5.8" stroke-linecap="butt"/>
<line x1="1487.10" y1="369.55" x2="1510.30" y2="369.55" stroke="#000" stroke-width="5.8" stroke-linecap="butt"/>
<line x1="1487.10" y1="449.70" x2="1510.30" y2="449.70" stroke="#000" stroke-width="5.8" stroke-linecap="butt"/>
<line x1="1487.10" y1="529.85" x2="1510.30" y2="529.85" stroke="#000" stroke-width="5.8" stroke-linecap="butt"/>
<line x1="1487.10" y1="610.00" x2="1510.30" y2="610.00" stroke="#000" stroke-width="5.8" stroke-linecap="butt"/>
<line x1="1487.10" y1="610.00" x2="1796.80" y2="610.00" stroke="#000" stroke-width="5.8" stroke-linecap="butt"/>
<line x1="1572.90" y1="610.00" x2="1572.90" y2="633.00" stroke="#000" stroke-width="5.8" stroke-linecap="butt"/>
<line x1="1730.90" y1="610.00" x2="1730.90" y2="633.00" stroke="#000" stroke-width="5.8" stroke-linecap="butt"/>
<text transform="translate(1572.90 671.80) scale(0.972 1)" font-size="39.20" text-anchor="middle">Well</text>
<text transform="translate(1572.90 713.50) scale(0.972 1)" font-size="39.20" text-anchor="middle">Rested</text>
<text transform="translate(1730.90 671.80) scale(0.972 1)" font-size="39.20" text-anchor="middle">Sleep</text>
<text transform="translate(1730.90 713.50) scale(0.972 1)" font-size="39.20" text-anchor="middle">Deprived</text>
<text transform="translate(1183.50 62.80) scale(0.972 1)" font-size="39.20" text-anchor="start" font-weight="bold">b</text>
<polyline points="1213.50,43.50 1213.50,22.20 1369.80,22.20 1369.80,43.50" fill="none" stroke="#000" stroke-width="2.6" stroke-linejoin="miter"/>
<text transform="translate(1291.50 32.80) scale(0.972 1)" font-size="39.20" text-anchor="middle">*</text>
<text transform="translate(1040.00 330.10) rotate(-90) scale(0.983 1)" font-size="39.20" text-anchor="middle">Blink Duration (ms)</text>
<rect x="1163.15" y="1297.75" width="97.30" height="33.68" fill="#fff" stroke="#000080" stroke-width="2.7"/>
<rect x="1314.15" y="1210.05" width="97.50" height="121.38" fill="#8e93cf" stroke="#000080" stroke-width="2.7"/>
<circle cx="1211.8" cy="1189.2" r="2.75" fill="#fff" stroke="#000080" stroke-width="2.5"/>
<circle cx="1211.8" cy="1257.1" r="2.75" fill="#fff" stroke="#000080" stroke-width="2.5"/>
<circle cx="1211.8" cy="1274.0" r="2.75" fill="#fff" stroke="#000080" stroke-width="2.5"/>
<circle cx="1211.8" cy="1288.5" r="2.75" fill="#fff" stroke="#000080" stroke-width="2.5"/>
<circle cx="1206.5" cy="1294.0" r="2.75" fill="#fff" stroke="#000080" stroke-width="2.5"/>
<circle cx="1217.4" cy="1295.0" r="2.75" fill="#fff" stroke="#000080" stroke-width="2.5"/>
<circle cx="1206.5" cy="1300.0" r="2.75" fill="#fff" stroke="#000080" stroke-width="2.5"/>
<circle cx="1211.8" cy="1309.5" r="2.75" fill="#fff" stroke="#000080" stroke-width="2.5"/>
<circle cx="1206.5" cy="1321.5" r="2.75" fill="#fff" stroke="#000080" stroke-width="2.5"/>
<circle cx="1227.5" cy="1320.8" r="2.75" fill="#fff" stroke="#000080" stroke-width="2.5"/>
<circle cx="1196.1" cy="1324.0" r="2.75" fill="#fff" stroke="#000080" stroke-width="2.5"/>
<circle cx="1217.4" cy="1326.4" r="2.75" fill="#fff" stroke="#000080" stroke-width="2.5"/>
<circle cx="1227.5" cy="1325.9" r="2.75" fill="#fff" stroke="#000080" stroke-width="2.5"/>
<circle cx="1196.1" cy="1331.0" r="2.75" fill="#fff" stroke="#000080" stroke-width="2.5"/>
<circle cx="1362.8" cy="809.7" r="4.2" fill="#000080"/>
<circle cx="1362.8" cy="1060.2" r="4.2" fill="#000080"/>
<circle cx="1362.8" cy="1118.2" r="4.2" fill="#000080"/>
<circle cx="1362.8" cy="1178.6" r="4.2" fill="#000080"/>
<circle cx="1362.8" cy="1224.7" r="4.2" fill="#000080"/>
<circle cx="1352.4" cy="1235.6" r="4.2" fill="#000080"/>
<circle cx="1362.8" cy="1240.1" r="4.2" fill="#000080"/>
<circle cx="1352.4" cy="1273.2" r="4.2" fill="#000080"/>
<circle cx="1373.2" cy="1276.1" r="4.2" fill="#000080"/>
<circle cx="1362.8" cy="1280.0" r="4.2" fill="#000080"/>
<circle cx="1362.8" cy="1285.3" r="4.2" fill="#000080"/>
<circle cx="1352.4" cy="1316.0" r="4.2" fill="#000080"/>
<circle cx="1362.8" cy="1315.3" r="4.2" fill="#000080"/>
<circle cx="1373.2" cy="1316.0" r="4.2" fill="#000080"/>
<line x1="1211.80" y1="1286.50" x2="1211.80" y2="1307.00" stroke="#000080" stroke-width="2.7" stroke-linecap="butt"/>
<line x1="1186.90" y1="1286.50" x2="1236.70" y2="1286.50" stroke="#000080" stroke-width="2.7" stroke-linecap="butt"/>
<line x1="1186.90" y1="1307.00" x2="1236.70" y2="1307.00" stroke="#000080" stroke-width="2.7" stroke-linecap="butt"/>
<line x1="1362.80" y1="1172.30" x2="1362.80" y2="1245.90" stroke="#000080" stroke-width="2.7" stroke-linecap="butt"/>
<line x1="1337.90" y1="1172.30" x2="1387.70" y2="1172.30" stroke="#000080" stroke-width="2.7" stroke-linecap="butt"/>
<line x1="1337.90" y1="1245.90" x2="1387.70" y2="1245.90" stroke="#000080" stroke-width="2.7" stroke-linecap="butt"/>
<line x1="1152.20" y1="794.50" x2="1152.20" y2="1334.33" stroke="#000" stroke-width="5.8" stroke-linecap="butt"/>
<line x1="1130.40" y1="797.40" x2="1152.20" y2="797.40" stroke="#000" stroke-width="5.8" stroke-linecap="butt"/>
<line x1="1130.40" y1="873.69" x2="1152.20" y2="873.69" stroke="#000" stroke-width="5.8" stroke-linecap="butt"/>
<line x1="1130.40" y1="949.98" x2="1152.20" y2="949.98" stroke="#000" stroke-width="5.8" stroke-linecap="butt"/>
<line x1="1130.40" y1="1026.27" x2="1152.20" y2="1026.27" stroke="#000" stroke-width="5.8" stroke-linecap="butt"/>
<line x1="1130.40" y1="1102.56" x2="1152.20" y2="1102.56" stroke="#000" stroke-width="5.8" stroke-linecap="butt"/>
<line x1="1130.40" y1="1178.85" x2="1152.20" y2="1178.85" stroke="#000" stroke-width="5.8" stroke-linecap="butt"/>
<line x1="1130.40" y1="1255.14" x2="1152.20" y2="1255.14" stroke="#000" stroke-width="5.8" stroke-linecap="butt"/>
<line x1="1130.40" y1="1331.43" x2="1152.20" y2="1331.43" stroke="#000" stroke-width="5.8" stroke-linecap="butt"/>
<line x1="1130.40" y1="1331.43" x2="1425.50" y2="1331.43" stroke="#000" stroke-width="5.8" stroke-linecap="butt"/>
<line x1="1211.80" y1="1331.43" x2="1211.80" y2="1353.70" stroke="#000" stroke-width="5.8" stroke-linecap="butt"/>
<line x1="1363.00" y1="1331.43" x2="1363.00" y2="1353.70" stroke="#000" stroke-width="5.8" stroke-linecap="butt"/>
<text transform="translate(1125.00 808.89) scale(0.972 1)" font-size="37.32" text-anchor="end">70</text>
<text transform="translate(1125.00 885.18) scale(0.972 1)" font-size="37.32" text-anchor="end">60</text>
<text transform="translate(1125.00 961.47) scale(0.972 1)" font-size="37.32" text-anchor="end">50</text>
<text transform="translate(1125.00 1037.76) scale(0.972 1)" font-size="37.32" text-anchor="end">40</text>
<text transform="translate(1125.00 1114.05) scale(0.972 1)" font-size="37.32" text-anchor="end">30</text>
<text transform="translate(1125.00 1190.34) scale(0.972 1)" font-size="37.32" text-anchor="end">20</text>
<text transform="translate(1125.00 1266.63) scale(0.972 1)" font-size="37.32" text-anchor="end">10</text>
<text transform="translate(1125.00 1342.92) scale(0.972 1)" font-size="37.32" text-anchor="end">0</text>
<text transform="translate(1211.80 1391.40) scale(0.972 1)" font-size="37.32" text-anchor="middle">Well</text>
<text transform="translate(1211.80 1430.60) scale(0.972 1)" font-size="37.32" text-anchor="middle">Rested</text>
<text transform="translate(1363.00 1391.40) scale(0.972 1)" font-size="37.32" text-anchor="middle">Sleep</text>
<text transform="translate(1363.00 1430.60) scale(0.972 1)" font-size="37.32" text-anchor="middle">Deprived</text>
<rect x="1521.55" y="1292.75" width="102.90" height="39.16" fill="#fff" stroke="#9e0000" stroke-width="2.7"/>
<rect x="1681.05" y="1270.25" width="103.00" height="61.66" fill="#d9b1b1" stroke="#9e0000" stroke-width="2.7"/>
<circle cx="1573.1" cy="998.8" r="2.75" fill="#fff" stroke="#9e0000" stroke-width="2.5"/>
<circle cx="1556.7" cy="1282.2" r="2.75" fill="#fff" stroke="#9e0000" stroke-width="2.5"/>
<circle cx="1567.6" cy="1285.1" r="2.75" fill="#fff" stroke="#9e0000" stroke-width="2.5"/>
<circle cx="1578.7" cy="1287.0" r="2.75" fill="#fff" stroke="#9e0000" stroke-width="2.5"/>
<circle cx="1556.7" cy="1309.5" r="2.75" fill="#fff" stroke="#9e0000" stroke-width="2.5"/>
<circle cx="1535.2" cy="1315.3" r="2.75" fill="#fff" stroke="#9e0000" stroke-width="2.5"/>
<circle cx="1545.8" cy="1314.3" r="2.75" fill="#fff" stroke="#9e0000" stroke-width="2.5"/>
<circle cx="1567.6" cy="1313.1" r="2.75" fill="#fff" stroke="#9e0000" stroke-width="2.5"/>
<circle cx="1578.7" cy="1313.1" r="2.75" fill="#fff" stroke="#9e0000" stroke-width="2.5"/>
<circle cx="1589.5" cy="1316.0" r="2.75" fill="#fff" stroke="#9e0000" stroke-width="2.5"/>
<circle cx="1556.7" cy="1318.9" r="2.75" fill="#fff" stroke="#9e0000" stroke-width="2.5"/>
<circle cx="1567.6" cy="1318.9" r="2.75" fill="#fff" stroke="#9e0000" stroke-width="2.5"/>
<circle cx="1578.7" cy="1318.9" r="2.75" fill="#fff" stroke="#9e0000" stroke-width="2.5"/>
<circle cx="1589.5" cy="1322.3" r="2.75" fill="#fff" stroke="#9e0000" stroke-width="2.5"/>
<circle cx="1556.7" cy="1325.7" r="2.75" fill="#fff" stroke="#9e0000" stroke-width="2.5"/>
<circle cx="1578.7" cy="1325.2" r="2.75" fill="#fff" stroke="#9e0000" stroke-width="2.5"/>
<circle cx="1732.3" cy="1012.9" r="4.2" fill="#9e0000"/>
<circle cx="1732.3" cy="1080.2" r="4.2" fill="#9e0000"/>
<circle cx="1732.3" cy="1198.8" r="4.2" fill="#9e0000"/>
<circle cx="1732.3" cy="1246.2" r="4.2" fill="#9e0000"/>
<circle cx="1732.3" cy="1277.1" r="4.2" fill="#9e0000"/>
<circle cx="1716.4" cy="1304.9" r="4.2" fill="#9e0000"/>
<circle cx="1727.0" cy="1303.7" r="4.2" fill="#9e0000"/>
<circle cx="1737.9" cy="1309.0" r="4.2" fill="#9e0000"/>
<circle cx="1716.4" cy="1316.0" r="4.2" fill="#9e0000"/>
<circle cx="1727.0" cy="1316.0" r="4.2" fill="#9e0000"/>
<circle cx="1737.9" cy="1317.9" r="4.2" fill="#9e0000"/>
<circle cx="1748.7" cy="1315.3" r="4.2" fill="#9e0000"/>
<circle cx="1716.4" cy="1323.0" r="4.2" fill="#9e0000"/>
<circle cx="1737.9" cy="1324.7" r="4.2" fill="#9e0000"/>
<circle cx="1748.7" cy="1321.8" r="4.2" fill="#9e0000"/>
<circle cx="1727.0" cy="1329.0" r="4.2" fill="#9e0000"/>
<line x1="1573.40" y1="1271.80" x2="1573.40" y2="1311.40" stroke="#9e0000" stroke-width="2.7" stroke-linecap="butt"/>
<line x1="1547.10" y1="1271.80" x2="1599.70" y2="1271.80" stroke="#9e0000" stroke-width="2.7" stroke-linecap="butt"/>
<line x1="1547.10" y1="1311.40" x2="1599.70" y2="1311.40" stroke="#9e0000" stroke-width="2.7" stroke-linecap="butt"/>
<line x1="1732.30" y1="1245.00" x2="1732.30" y2="1291.80" stroke="#9e0000" stroke-width="2.7" stroke-linecap="butt"/>
<line x1="1706.00" y1="1245.00" x2="1758.60" y2="1245.00" stroke="#9e0000" stroke-width="2.7" stroke-linecap="butt"/>
<line x1="1706.00" y1="1291.80" x2="1758.60" y2="1291.80" stroke="#9e0000" stroke-width="2.7" stroke-linecap="butt"/>
<line x1="1510.30" y1="768.80" x2="1510.30" y2="1334.81" stroke="#000" stroke-width="5.8" stroke-linecap="butt"/>
<line x1="1487.10" y1="771.70" x2="1510.30" y2="771.70" stroke="#000" stroke-width="5.8" stroke-linecap="butt"/>
<line x1="1487.10" y1="851.73" x2="1510.30" y2="851.73" stroke="#000" stroke-width="5.8" stroke-linecap="butt"/>
<line x1="1487.10" y1="931.76" x2="1510.30" y2="931.76" stroke="#000" stroke-width="5.8" stroke-linecap="butt"/>
<line x1="1487.10" y1="1011.79" x2="1510.30" y2="1011.79" stroke="#000" stroke-width="5.8" stroke-linecap="butt"/>
<line x1="1487.10" y1="1091.82" x2="1510.30" y2="1091.82" stroke="#000" stroke-width="5.8" stroke-linecap="butt"/>
<line x1="1487.10" y1="1171.85" x2="1510.30" y2="1171.85" stroke="#000" stroke-width="5.8" stroke-linecap="butt"/>
<line x1="1487.10" y1="1251.88" x2="1510.30" y2="1251.88" stroke="#000" stroke-width="5.8" stroke-linecap="butt"/>
<line x1="1487.10" y1="1331.91" x2="1510.30" y2="1331.91" stroke="#000" stroke-width="5.8" stroke-linecap="butt"/>
<line x1="1487.10" y1="1331.91" x2="1799.20" y2="1331.91" stroke="#000" stroke-width="5.8" stroke-linecap="butt"/>
<line x1="1573.90" y1="1331.91" x2="1573.90" y2="1354.90" stroke="#000" stroke-width="5.8" stroke-linecap="butt"/>
<line x1="1732.80" y1="1331.91" x2="1732.80" y2="1354.90" stroke="#000" stroke-width="5.8" stroke-linecap="butt"/>
<text transform="translate(1573.90 1394.10) scale(0.972 1)" font-size="39.20" text-anchor="middle">Well</text>
<text transform="translate(1573.90 1436.10) scale(0.972 1)" font-size="39.20" text-anchor="middle">Rested</text>
<text transform="translate(1732.80 1394.10) scale(0.972 1)" font-size="39.20" text-anchor="middle">Sleep</text>
<text transform="translate(1732.80 1436.10) scale(0.972 1)" font-size="39.20" text-anchor="middle">Deprived</text>
<text transform="translate(1185.50 796.00) scale(0.972 1)" font-size="37.32" text-anchor="start" font-weight="bold">d</text>
<polyline points="1211.80,788.00 1211.80,767.40 1362.80,767.40 1362.80,788.00" fill="none" stroke="#000" stroke-width="2.6" stroke-linejoin="miter"/>
<text transform="translate(1284.30 776.50) scale(0.972 1)" font-size="37.32" text-anchor="middle">*</text>
<text transform="translate(1058.80 1065.20) rotate(-90) scale(0.981 1)" font-size="37.32" text-anchor="middle">LEC Rate/15 min</text>
<rect x="1163.65" y="1896.85" width="102.60" height="122.65" fill="#fff" stroke="#000080" stroke-width="2.7"/>
<rect x="1322.65" y="1807.05" width="102.70" height="212.45" fill="#8e93cf" stroke="#000080" stroke-width="2.7"/>
<circle cx="1215.0" cy="1764.1" r="2.75" fill="#fff" stroke="#000080" stroke-width="2.5"/>
<circle cx="1215.0" cy="1813.4" r="2.75" fill="#fff" stroke="#000080" stroke-width="2.5"/>
<circle cx="1215.0" cy="1819.4" r="2.75" fill="#fff" stroke="#000080" stroke-width="2.5"/>
<circle cx="1215.0" cy="1859.0" r="2.75" fill="#fff" stroke="#000080" stroke-width="2.5"/>
<circle cx="1204.1" cy="1875.0" r="2.75" fill="#fff" stroke="#000080" stroke-width="2.5"/>
<circle cx="1215.0" cy="1876.2" r="2.75" fill="#fff" stroke="#000080" stroke-width="2.5"/>
<circle cx="1225.8" cy="1874.3" r="2.75" fill="#fff" stroke="#000080" stroke-width="2.5"/>
<circle cx="1209.4" cy="1921.4" r="2.75" fill="#fff" stroke="#000080" stroke-width="2.5"/>
<circle cx="1220.3" cy="1921.6" r="2.75" fill="#fff" stroke="#000080" stroke-width="2.5"/>
<circle cx="1215.0" cy="1933.2" r="2.75" fill="#fff" stroke="#000080" stroke-width="2.5"/>
<circle cx="1215.0" cy="1962.4" r="2.75" fill="#fff" stroke="#000080" stroke-width="2.5"/>
<circle cx="1209.4" cy="1969.9" r="2.75" fill="#fff" stroke="#000080" stroke-width="2.5"/>
<circle cx="1220.3" cy="1970.9" r="2.75" fill="#fff" stroke="#000080" stroke-width="2.5"/>
<circle cx="1215.0" cy="1982.5" r="2.75" fill="#fff" stroke="#000080" stroke-width="2.5"/>
<circle cx="1374.4" cy="1526.7" r="4.2" fill="#000080"/>
<circle cx="1374.4" cy="1650.4" r="4.2" fill="#000080"/>
<circle cx="1374.4" cy="1674.3" r="4.2" fill="#000080"/>
<circle cx="1374.4" cy="1699.4" r="4.2" fill="#000080"/>
<circle cx="1374.4" cy="1718.7" r="4.2" fill="#000080"/>
<circle cx="1374.4" cy="1781.3" r="4.2" fill="#000080"/>
<circle cx="1374.4" cy="1844.1" r="4.2" fill="#000080"/>
<circle cx="1368.6" cy="1861.7" r="4.2" fill="#000080"/>
<circle cx="1379.7" cy="1865.3" r="4.2" fill="#000080"/>
<circle cx="1374.4" cy="1891.9" r="4.2" fill="#000080"/>
<circle cx="1374.4" cy="1919.7" r="4.2" fill="#000080"/>
<circle cx="1374.4" cy="1943.3" r="4.2" fill="#000080"/>
<circle cx="1374.4" cy="1949.1" r="4.2" fill="#000080"/>
<circle cx="1374.4" cy="1962.2" r="4.2" fill="#000080"/>
<line x1="1215.00" y1="1877.60" x2="1215.00" y2="1913.90" stroke="#000080" stroke-width="2.7" stroke-linecap="butt"/>
<line x1="1188.70" y1="1877.60" x2="1241.30" y2="1877.60" stroke="#000080" stroke-width="2.7" stroke-linecap="butt"/>
<line x1="1188.70" y1="1913.90" x2="1241.30" y2="1913.90" stroke="#000080" stroke-width="2.7" stroke-linecap="butt"/>
<line x1="1374.40" y1="1770.40" x2="1374.40" y2="1841.60" stroke="#000080" stroke-width="2.7" stroke-linecap="butt"/>
<line x1="1348.10" y1="1770.40" x2="1400.70" y2="1770.40" stroke="#000080" stroke-width="2.7" stroke-linecap="butt"/>
<line x1="1348.10" y1="1841.60" x2="1400.70" y2="1841.60" stroke="#000080" stroke-width="2.7" stroke-linecap="butt"/>
<line x1="1152.20" y1="1471.30" x2="1152.20" y2="2022.40" stroke="#000" stroke-width="5.8" stroke-linecap="butt"/>
<line x1="1129.70" y1="1474.20" x2="1152.20" y2="1474.20" stroke="#000" stroke-width="5.8" stroke-linecap="butt"/>
<line x1="1129.70" y1="1552.10" x2="1152.20" y2="1552.10" stroke="#000" stroke-width="5.8" stroke-linecap="butt"/>
<line x1="1129.70" y1="1630.00" x2="1152.20" y2="1630.00" stroke="#000" stroke-width="5.8" stroke-linecap="butt"/>
<line x1="1129.70" y1="1707.90" x2="1152.20" y2="1707.90" stroke="#000" stroke-width="5.8" stroke-linecap="butt"/>
<line x1="1129.70" y1="1785.80" x2="1152.20" y2="1785.80" stroke="#000" stroke-width="5.8" stroke-linecap="butt"/>
<line x1="1129.70" y1="1863.70" x2="1152.20" y2="1863.70" stroke="#000" stroke-width="5.8" stroke-linecap="butt"/>
<line x1="1129.70" y1="1941.60" x2="1152.20" y2="1941.60" stroke="#000" stroke-width="5.8" stroke-linecap="butt"/>
<line x1="1129.70" y1="2019.50" x2="1152.20" y2="2019.50" stroke="#000" stroke-width="5.8" stroke-linecap="butt"/>
<line x1="1129.70" y1="2019.50" x2="1441.00" y2="2019.50" stroke="#000" stroke-width="5.8" stroke-linecap="butt"/>
<line x1="1215.00" y1="2019.50" x2="1215.00" y2="2042.70" stroke="#000" stroke-width="5.8" stroke-linecap="butt"/>
<line x1="1374.40" y1="2019.50" x2="1374.40" y2="2042.70" stroke="#000" stroke-width="5.8" stroke-linecap="butt"/>
<text transform="translate(1123.00 1486.27) scale(0.972 1)" font-size="39.20" text-anchor="end">14</text>
<text transform="translate(1123.00 1564.17) scale(0.972 1)" font-size="39.20" text-anchor="end">12</text>
<text transform="translate(1123.00 1642.07) scale(0.972 1)" font-size="39.20" text-anchor="end">10</text>
<text transform="translate(1123.00 1719.97) scale(0.972 1)" font-size="39.20" text-anchor="end">8</text>
<text transform="translate(1123.00 1797.87) scale(0.972 1)" font-size="39.20" text-anchor="end">6</text>
<text transform="translate(1123.00 1875.77) scale(0.972 1)" font-size="39.20" text-anchor="end">4</text>
<text transform="translate(1123.00 1953.67) scale(0.972 1)" font-size="39.20" text-anchor="end">2</text>
<text transform="translate(1123.00 2031.57) scale(0.972 1)" font-size="39.20" text-anchor="end">0</text>
<text transform="translate(1215.00 2081.80) scale(0.972 1)" font-size="39.20" text-anchor="middle">Well</text>
<text transform="translate(1215.00 2122.90) scale(0.972 1)" font-size="39.20" text-anchor="middle">Rested</text>
<text transform="translate(1374.40 2081.80) scale(0.972 1)" font-size="39.20" text-anchor="middle">Sleep</text>
<text transform="translate(1374.40 2122.90) scale(0.972 1)" font-size="39.20" text-anchor="middle">Deprived</text>
<rect x="1521.55" y="1883.85" width="102.90" height="135.65" fill="#fff" stroke="#9e0000" stroke-width="2.7"/>
<rect x="1681.05" y="1871.05" width="103.00" height="148.45" fill="#d9b1b1" stroke="#9e0000" stroke-width="2.7"/>
<circle cx="1573.1" cy="1591.9" r="2.75" fill="#fff" stroke="#9e0000" stroke-width="2.5"/>
<circle cx="1573.1" cy="1701.8" r="2.75" fill="#fff" stroke="#9e0000" stroke-width="2.5"/>
<circle cx="1573.1" cy="1799.6" r="2.75" fill="#fff" stroke="#9e0000" stroke-width="2.5"/>
<circle cx="1573.1" cy="1812.2" r="2.75" fill="#fff" stroke="#9e0000" stroke-width="2.5"/>
<circle cx="1573.1" cy="1850.8" r="2.75" fill="#fff" stroke="#9e0000" stroke-width="2.5"/>
<circle cx="1562.3" cy="1871.8" r="2.75" fill="#fff" stroke="#9e0000" stroke-width="2.5"/>
<circle cx="1573.1" cy="1875.0" r="2.75" fill="#fff" stroke="#9e0000" stroke-width="2.5"/>
<circle cx="1573.1" cy="1906.9" r="2.75" fill="#fff" stroke="#9e0000" stroke-width="2.5"/>
<circle cx="1573.1" cy="1937.0" r="2.75" fill="#fff" stroke="#9e0000" stroke-width="2.5"/>
<circle cx="1583.8" cy="1948.2" r="2.75" fill="#fff" stroke="#9e0000" stroke-width="2.5"/>
<circle cx="1562.3" cy="1953.5" r="2.75" fill="#fff" stroke="#9e0000" stroke-width="2.5"/>
<circle cx="1573.1" cy="1955.2" r="2.75" fill="#fff" stroke="#9e0000" stroke-width="2.5"/>
<circle cx="1583.8" cy="1954.2" r="2.75" fill="#fff" stroke="#9e0000" stroke-width="2.5"/>
<circle cx="1573.1" cy="1976.4" r="2.75" fill="#fff" stroke="#9e0000" stroke-width="2.5"/>
<circle cx="1567.6" cy="1994.3" r="2.75" fill="#fff" stroke="#9e0000" stroke-width="2.5"/>
<circle cx="1578.7" cy="1993.6" r="2.75" fill="#fff" stroke="#9e0000" stroke-width="2.5"/>
<circle cx="1732.3" cy="1667.2" r="4.2" fill="#9e0000"/>
<circle cx="1732.3" cy="1698.9" r="4.2" fill="#9e0000"/>
<circle cx="1732.3" cy="1732.9" r="4.2" fill="#9e0000"/>
<circle cx="1732.3" cy="1795.5" r="4.2" fill="#9e0000"/>
<circle cx="1732.3" cy="1812.4" r="4.2" fill="#9e0000"/>
<circle cx="1732.3" cy="1840.0" r="4.2" fill="#9e0000"/>
<circle cx="1727.0" cy="1876.7" r="4.2" fill="#9e0000"/>
<circle cx="1737.9" cy="1873.5" r="4.2" fill="#9e0000"/>
<circle cx="1721.4" cy="1920.1" r="4.2" fill="#9e0000"/>
<circle cx="1732.3" cy="1923.5" r="4.2" fill="#9e0000"/>
<circle cx="1743.4" cy="1922.1" r="4.2" fill="#9e0000"/>
<circle cx="1732.3" cy="1935.6" r="4.2" fill="#9e0000"/>
<circle cx="1732.3" cy="1947.4" r="4.2" fill="#9e0000"/>
<circle cx="1732.3" cy="1974.0" r="4.2" fill="#9e0000"/>
<circle cx="1732.3" cy="1992.6" r="4.2" fill="#9e0000"/>
<circle cx="1732.3" cy="2003.5" r="4.2" fill="#9e0000"/>
<line x1="1573.10" y1="1854.70" x2="1573.10" y2="1910.70" stroke="#9e0000" stroke-width="2.7" stroke-linecap="butt"/>
<line x1="1546.80" y1="1854.70" x2="1599.40" y2="1854.70" stroke="#9e0000" stroke-width="2.7" stroke-linecap="butt"/>
<line x1="1546.80" y1="1910.70" x2="1599.40" y2="1910.70" stroke="#9e0000" stroke-width="2.7" stroke-linecap="butt"/>
<line x1="1732.30" y1="1843.80" x2="1732.30" y2="1895.50" stroke="#9e0000" stroke-width="2.7" stroke-linecap="butt"/>
<line x1="1706.00" y1="1843.80" x2="1758.60" y2="1843.80" stroke="#9e0000" stroke-width="2.7" stroke-linecap="butt"/>
<line x1="1706.00" y1="1895.50" x2="1758.60" y2="1895.50" stroke="#9e0000" stroke-width="2.7" stroke-linecap="butt"/>
<line x1="1510.30" y1="1471.30" x2="1510.30" y2="2022.40" stroke="#000" stroke-width="5.8" stroke-linecap="butt"/>
<line x1="1487.10" y1="1474.20" x2="1510.30" y2="1474.20" stroke="#000" stroke-width="5.8" stroke-linecap="butt"/>
<line x1="1487.10" y1="1552.10" x2="1510.30" y2="1552.10" stroke="#000" stroke-width="5.8" stroke-linecap="butt"/>
<line x1="1487.10" y1="1630.00" x2="1510.30" y2="1630.00" stroke="#000" stroke-width="5.8" stroke-linecap="butt"/>
<line x1="1487.10" y1="1707.90" x2="1510.30" y2="1707.90" stroke="#000" stroke-width="5.8" stroke-linecap="butt"/>
<line x1="1487.10" y1="1785.80" x2="1510.30" y2="1785.80" stroke="#000" stroke-width="5.8" stroke-linecap="butt"/>
<line x1="1487.10" y1="1863.70" x2="1510.30" y2="1863.70" stroke="#000" stroke-width="5.8" stroke-linecap="butt"/>
<line x1="1487.10" y1="1941.60" x2="1510.30" y2="1941.60" stroke="#000" stroke-width="5.8" stroke-linecap="butt"/>
<line x1="1487.10" y1="2019.50" x2="1510.30" y2="2019.50" stroke="#000" stroke-width="5.8" stroke-linecap="butt"/>
<line x1="1487.10" y1="2019.50" x2="1799.20" y2="2019.50" stroke="#000" stroke-width="5.8" stroke-linecap="butt"/>
<line x1="1573.90" y1="2019.50" x2="1573.90" y2="2042.70" stroke="#000" stroke-width="5.8" stroke-linecap="butt"/>
<line x1="1732.80" y1="2019.50" x2="1732.80" y2="2042.70" stroke="#000" stroke-width="5.8" stroke-linecap="butt"/>
<text transform="translate(1573.90 2081.80) scale(0.972 1)" font-size="39.20" text-anchor="middle">Well</text>
<text transform="translate(1573.90 2122.90) scale(0.972 1)" font-size="39.20" text-anchor="middle">Rested</text>
<text transform="translate(1732.80 2081.80) scale(0.972 1)" font-size="39.20" text-anchor="middle">Sleep</text>
<text transform="translate(1732.80 2122.90) scale(0.972 1)" font-size="39.20" text-anchor="middle">Deprived</text>
<text transform="translate(1184.00 1482.30) scale(0.972 1)" font-size="39.20" text-anchor="start" font-weight="bold">f</text>
<polyline points="1209.40,1496.30 1209.40,1474.10 1380.00,1474.10 1380.00,1496.30" fill="none" stroke="#000" stroke-width="2.6" stroke-linejoin="miter"/>
<text transform="translate(1294.70 1483.00) scale(0.972 1)" font-size="39.20" text-anchor="middle">*</text>
<text transform="translate(1058.80 1747.60) rotate(-90) scale(0.972 1)" font-size="39.20" text-anchor="middle">PERCLOS (%)</text>
<text transform="translate(1292.00 2173.80) scale(0.972 1)" font-size="39.20" text-anchor="middle">Younger Adult</text>
<text transform="translate(1652.20 2173.80) scale(0.972 1)" font-size="39.20" text-anchor="middle">Older Adult</text>
</svg>
</body></html>
